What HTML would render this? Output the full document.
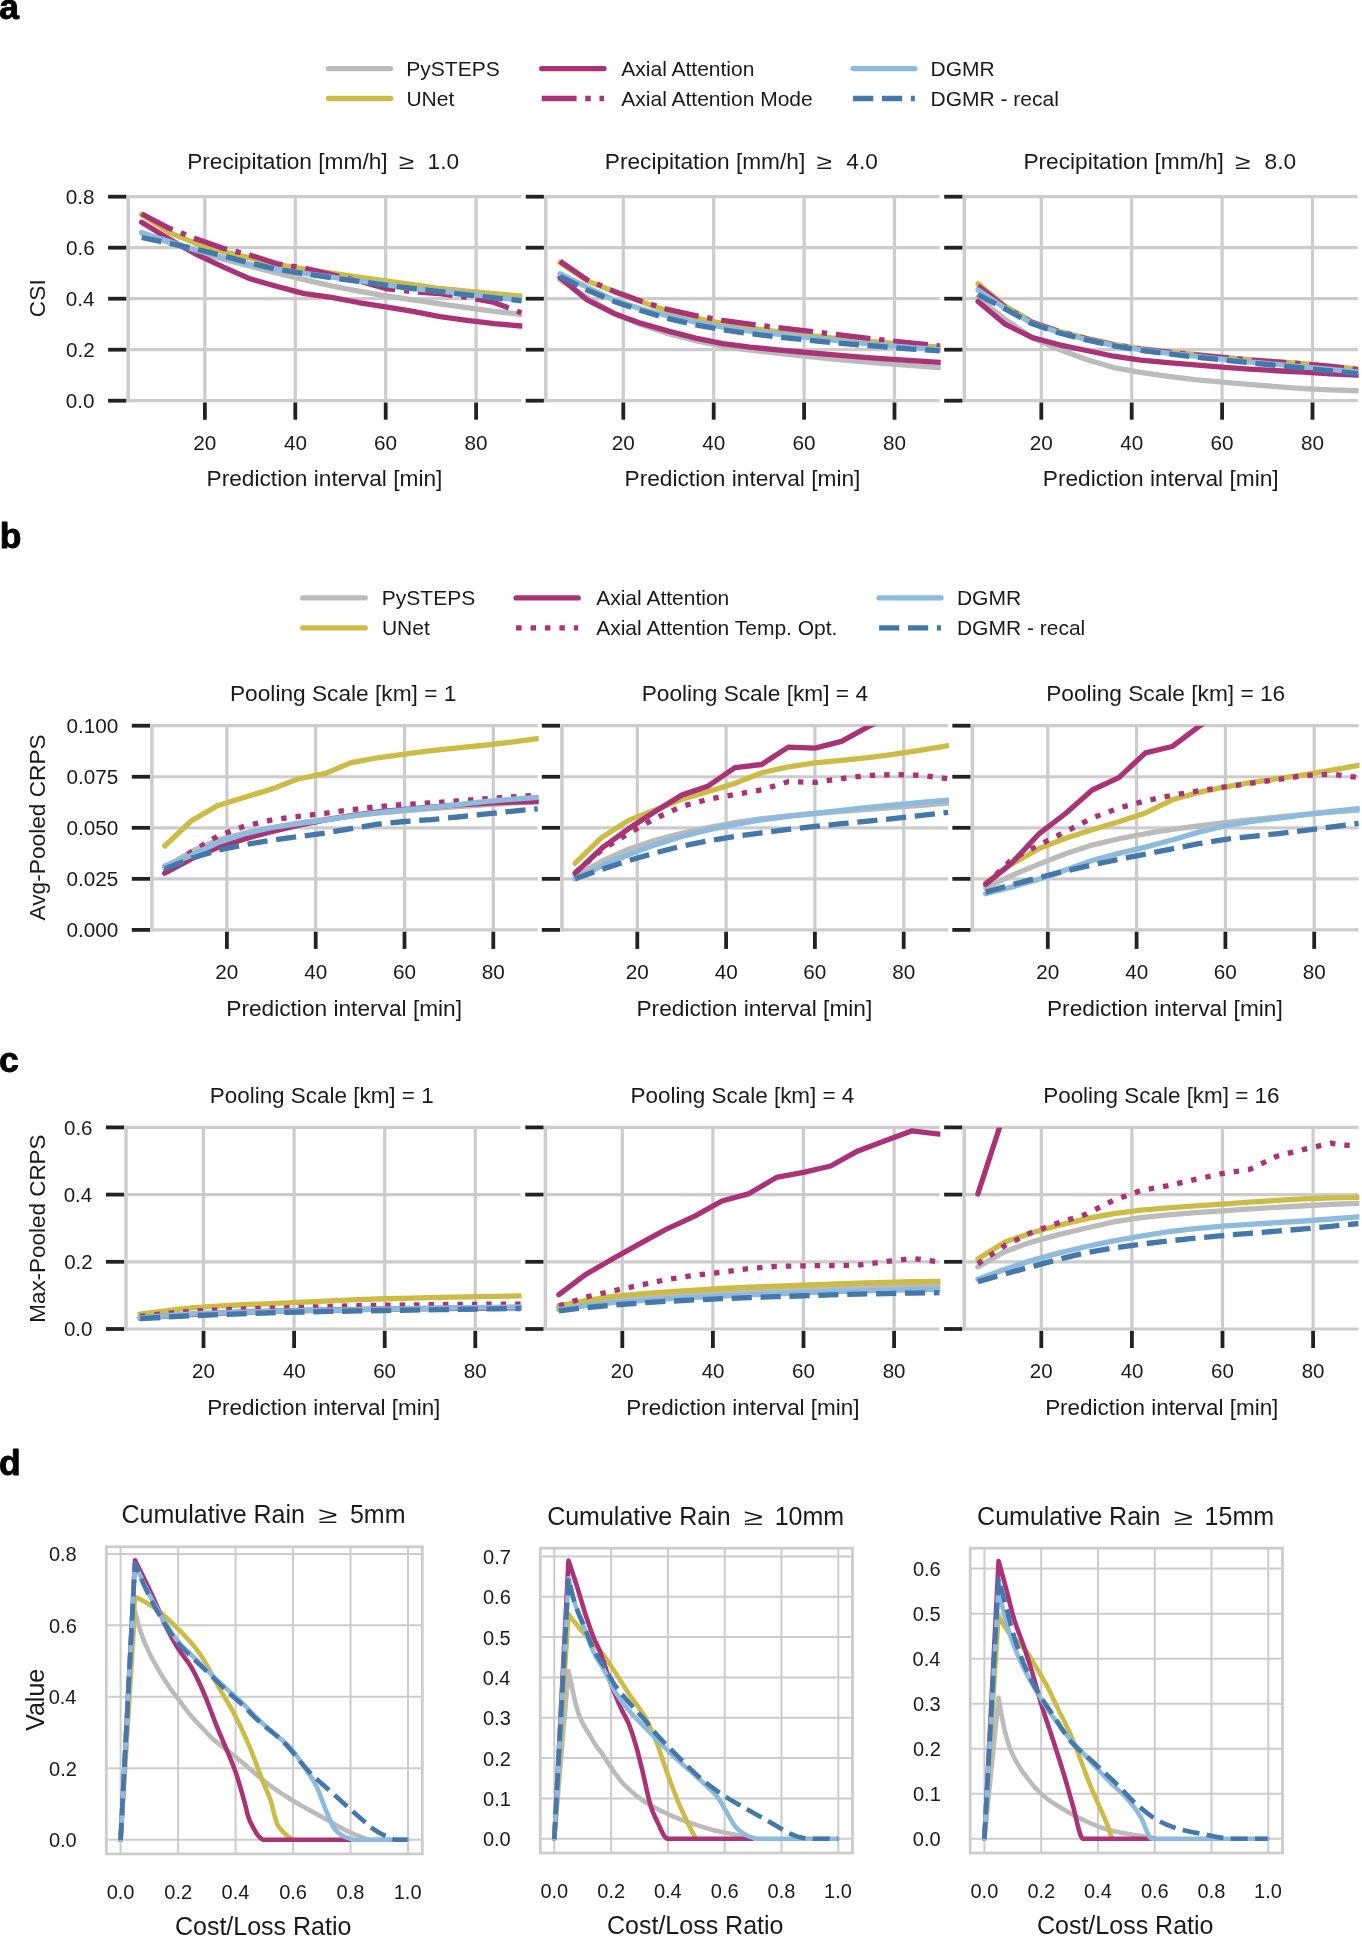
<!DOCTYPE html>
<html><head><meta charset="utf-8"><title>Figure</title>
<style>html,body{margin:0;padding:0;background:#fff;overflow:hidden;}svg{display:block;will-change:transform;}text{font-family:"Liberation Sans", sans-serif;}</style>
</head><body>
<svg width="1362" height="1936" viewBox="0 0 1362 1936" font-family='"Liberation Sans", sans-serif'><defs><clipPath id="c1"><rect x="128.20" y="196.70" width="394.10" height="204.00"/></clipPath><clipPath id="c2"><rect x="545.80" y="196.70" width="394.90" height="204.00"/></clipPath><clipPath id="c3"><rect x="964.30" y="196.70" width="394.40" height="204.00"/></clipPath><clipPath id="c4"><rect x="151.90" y="725.70" width="386.80" height="204.20"/></clipPath><clipPath id="c5"><rect x="561.90" y="725.70" width="387.20" height="204.20"/></clipPath><clipPath id="c6"><rect x="972.40" y="725.70" width="387.20" height="204.20"/></clipPath><clipPath id="c7"><rect x="126.00" y="1127.40" width="395.60" height="201.60"/></clipPath><clipPath id="c8"><rect x="545.40" y="1127.40" width="395.00" height="201.60"/></clipPath><clipPath id="c9"><rect x="964.20" y="1127.40" width="395.20" height="201.60"/></clipPath></defs><rect width="1362" height="1936" fill="#fff"/>
<line x1="128.20" y1="400.70" x2="521.30" y2="400.70" stroke="#CCCCCC" stroke-width="3.2" stroke-linecap="butt"/>
<line x1="128.20" y1="349.70" x2="521.30" y2="349.70" stroke="#CCCCCC" stroke-width="3.2" stroke-linecap="butt"/>
<line x1="128.20" y1="298.70" x2="521.30" y2="298.70" stroke="#CCCCCC" stroke-width="3.2" stroke-linecap="butt"/>
<line x1="128.20" y1="247.70" x2="521.30" y2="247.70" stroke="#CCCCCC" stroke-width="3.2" stroke-linecap="butt"/>
<line x1="128.20" y1="196.70" x2="521.30" y2="196.70" stroke="#CCCCCC" stroke-width="3.2" stroke-linecap="butt"/>
<line x1="204.90" y1="196.70" x2="204.90" y2="400.70" stroke="#CCCCCC" stroke-width="3.2" stroke-linecap="butt"/>
<line x1="295.30" y1="196.70" x2="295.30" y2="400.70" stroke="#CCCCCC" stroke-width="3.2" stroke-linecap="butt"/>
<line x1="385.70" y1="196.70" x2="385.70" y2="400.70" stroke="#CCCCCC" stroke-width="3.2" stroke-linecap="butt"/>
<line x1="476.10" y1="196.70" x2="476.10" y2="400.70" stroke="#CCCCCC" stroke-width="3.2" stroke-linecap="butt"/>
<line x1="128.20" y1="195.10" x2="128.20" y2="402.30" stroke="#CCCCCC" stroke-width="3.5" stroke-linecap="butt"/>
<path d="M141.62,232.40 L168.74,242.60 L195.86,251.53 L222.98,259.17 L250.10,266.31 L277.22,273.20 L304.34,279.57 L331.46,285.95 L358.58,291.05 L385.70,295.89 L412.82,299.97 L439.94,303.80 L467.06,307.62 L494.18,311.45 L521.30,314.25" fill="none" stroke="#BBBBBB" stroke-width="5.3" stroke-linecap="round" stroke-linejoin="round" clip-path="url(#c1)"/>
<path d="M141.62,214.55 L168.74,232.40 L195.86,243.36 L222.98,251.53 L250.10,257.90 L277.22,264.27 L304.34,269.12 L331.46,273.20 L358.58,277.02 L385.70,280.85 L412.82,284.67 L439.94,288.50 L467.06,291.05 L494.18,293.60 L521.30,296.15" fill="none" stroke="#CCBB44" stroke-width="5.3" stroke-linecap="round" stroke-linejoin="round" clip-path="url(#c1)"/>
<path d="M141.62,222.20 L168.74,238.77 L195.86,254.07 L222.98,266.82 L250.10,278.81 L277.22,286.46 L304.34,293.60 L331.46,297.42 L358.58,302.52 L385.70,306.86 L412.82,311.45 L439.94,316.55 L467.06,320.38 L494.18,323.69 L521.30,325.99" fill="none" stroke="#AA3377" stroke-width="5.3" stroke-linecap="round" stroke-linejoin="round" clip-path="url(#c1)"/>
<path d="M141.62,213.78 L168.74,228.06 L195.86,238.77 L222.98,248.21 L250.10,255.09 L277.22,263.76 L304.34,268.10 L331.46,274.48 L358.58,280.85 L385.70,288.50 L412.82,291.81 L439.94,293.60 L467.06,297.42 L494.18,302.52 L521.30,312.72" fill="none" stroke="#AA3377" stroke-width="5.3" stroke-linecap="butt" stroke-linejoin="round" stroke-dasharray="34.88 8.72 5.45 8.72" clip-path="url(#c1)"/>
<path d="M141.62,232.91 L168.74,241.32 L195.86,250.25 L222.98,257.39 L250.10,264.27 L277.22,269.38 L304.34,273.45 L331.46,277.02 L358.58,280.85 L385.70,284.67 L412.82,288.50 L439.94,291.05 L467.06,293.60 L494.18,297.42 L521.30,299.97" fill="none" stroke="#8DBADD" stroke-width="5.3" stroke-linecap="round" stroke-linejoin="round" clip-path="url(#c1)"/>
<path d="M141.62,237.50 L168.74,243.11 L195.86,248.97 L222.98,255.86 L250.10,263.00 L277.22,269.38 L304.34,273.71 L331.46,277.79 L358.58,281.36 L385.70,285.19 L412.82,288.50 L439.94,291.56 L467.06,294.88 L494.18,297.94 L521.30,300.74" fill="none" stroke="#4477AA" stroke-width="5.3" stroke-linecap="butt" stroke-linejoin="round" stroke-dasharray="20.17 8.72" clip-path="url(#c1)"/>
<line x1="108.10" y1="400.70" x2="126.30" y2="400.70" stroke="#222222" stroke-width="3.8" stroke-linecap="butt"/>
<line x1="108.10" y1="349.70" x2="126.30" y2="349.70" stroke="#222222" stroke-width="3.8" stroke-linecap="butt"/>
<line x1="108.10" y1="298.70" x2="126.30" y2="298.70" stroke="#222222" stroke-width="3.8" stroke-linecap="butt"/>
<line x1="108.10" y1="247.70" x2="126.30" y2="247.70" stroke="#222222" stroke-width="3.8" stroke-linecap="butt"/>
<line x1="108.10" y1="196.70" x2="126.30" y2="196.70" stroke="#222222" stroke-width="3.8" stroke-linecap="butt"/>
<line x1="204.90" y1="402.50" x2="204.90" y2="419.70" stroke="#222222" stroke-width="3.8" stroke-linecap="butt"/>
<line x1="295.30" y1="402.50" x2="295.30" y2="419.70" stroke="#222222" stroke-width="3.8" stroke-linecap="butt"/>
<line x1="385.70" y1="402.50" x2="385.70" y2="419.70" stroke="#222222" stroke-width="3.8" stroke-linecap="butt"/>
<line x1="476.10" y1="402.50" x2="476.10" y2="419.70" stroke="#222222" stroke-width="3.8" stroke-linecap="butt"/>
<text x="65.85" y="408.24" font-size="20.7" fill="#1a1a1a">0.0</text>
<text x="66.06" y="357.24" font-size="20.7" fill="#1a1a1a">0.2</text>
<text x="65.65" y="306.24" font-size="20.7" fill="#1a1a1a">0.4</text>
<text x="65.96" y="255.24" font-size="20.7" fill="#1a1a1a">0.6</text>
<text x="65.85" y="204.24" font-size="20.7" fill="#1a1a1a">0.8</text>
<text x="0" y="0" font-size="22.7" fill="#1a1a1a" transform="translate(44.70,317.14) rotate(-90)">CSI</text>
<text x="193.31" y="449.50" font-size="20.7" fill="#1a1a1a">20</text>
<text x="283.97" y="449.50" font-size="20.7" fill="#1a1a1a">40</text>
<text x="374.11" y="449.50" font-size="20.7" fill="#1a1a1a">60</text>
<text x="464.56" y="449.50" font-size="20.7" fill="#1a1a1a">80</text>
<text x="206.56" y="486.30" font-size="22.7" fill="#1a1a1a">Prediction interval [min]</text>
<text x="187.14" y="168.50" font-size="22.7" fill="#1a1a1a">Precipitation [mm/h]</text>
<text x="0" y="0" font-size="22.7" fill="#1a1a1a" transform="translate(398.86,168.50) scale(1.24,0.93)">≥</text>
<text x="427.60" y="168.50" font-size="22.7" fill="#1a1a1a">1.0</text>
<line x1="545.80" y1="400.70" x2="939.70" y2="400.70" stroke="#CCCCCC" stroke-width="3.2" stroke-linecap="butt"/>
<line x1="545.80" y1="349.70" x2="939.70" y2="349.70" stroke="#CCCCCC" stroke-width="3.2" stroke-linecap="butt"/>
<line x1="545.80" y1="298.70" x2="939.70" y2="298.70" stroke="#CCCCCC" stroke-width="3.2" stroke-linecap="butt"/>
<line x1="545.80" y1="247.70" x2="939.70" y2="247.70" stroke="#CCCCCC" stroke-width="3.2" stroke-linecap="butt"/>
<line x1="545.80" y1="196.70" x2="939.70" y2="196.70" stroke="#CCCCCC" stroke-width="3.2" stroke-linecap="butt"/>
<line x1="623.30" y1="196.70" x2="623.30" y2="400.70" stroke="#CCCCCC" stroke-width="3.2" stroke-linecap="butt"/>
<line x1="713.70" y1="196.70" x2="713.70" y2="400.70" stroke="#CCCCCC" stroke-width="3.2" stroke-linecap="butt"/>
<line x1="804.10" y1="196.70" x2="804.10" y2="400.70" stroke="#CCCCCC" stroke-width="3.2" stroke-linecap="butt"/>
<line x1="894.50" y1="196.70" x2="894.50" y2="400.70" stroke="#CCCCCC" stroke-width="3.2" stroke-linecap="butt"/>
<line x1="545.80" y1="195.10" x2="545.80" y2="402.30" stroke="#CCCCCC" stroke-width="3.5" stroke-linecap="butt"/>
<path d="M560.02,279.83 L587.14,297.42 L614.26,313.22 L641.38,324.76 L668.50,333.63 L695.62,340.70 L722.74,346.13 L749.86,350.04 L776.98,353.20 L804.10,356.07 L831.22,358.81 L858.34,361.29 L885.46,363.56 L912.58,365.66 L939.70,367.55" fill="none" stroke="#BBBBBB" stroke-width="5.3" stroke-linecap="round" stroke-linejoin="round" clip-path="url(#c2)"/>
<path d="M560.02,262.49 L587.14,280.85 L614.26,291.47 L641.38,301.83 L668.50,311.19 L695.62,318.17 L722.74,323.69 L749.86,328.03 L776.98,331.69 L804.10,334.91 L831.22,337.77 L858.34,340.32 L885.46,342.74 L912.58,345.02 L939.70,347.15" fill="none" stroke="#CCBB44" stroke-width="5.3" stroke-linecap="round" stroke-linejoin="round" clip-path="url(#c2)"/>
<path d="M560.02,277.53 L587.14,299.97 L614.26,313.70 L641.38,323.38 L668.50,331.08 L695.62,338.12 L722.74,343.58 L749.86,347.07 L776.98,349.78 L804.10,352.25 L831.22,354.65 L858.34,356.83 L885.46,358.85 L912.58,360.73 L939.70,362.45" fill="none" stroke="#AA3377" stroke-width="5.3" stroke-linecap="round" stroke-linejoin="round" clip-path="url(#c2)"/>
<path d="M560.02,261.21 L587.14,279.83 L614.26,291.42 L641.38,301.36 L668.50,309.66 L695.62,315.65 L722.74,320.38 L749.86,324.16 L776.98,327.39 L804.10,330.57 L831.22,333.91 L858.34,337.18 L885.46,340.24 L912.58,343.14 L939.70,345.88" fill="none" stroke="#AA3377" stroke-width="5.3" stroke-linecap="butt" stroke-linejoin="round" stroke-dasharray="34.88 8.72 5.45 8.72" clip-path="url(#c2)"/>
<path d="M560.02,273.71 L587.14,287.48 L614.26,300.04 L641.38,309.01 L668.50,316.04 L695.62,322.22 L722.74,327.26 L749.86,331.06 L776.98,334.24 L804.10,337.20 L831.22,340.12 L858.34,342.82 L885.46,345.31 L912.58,347.60 L939.70,349.70" fill="none" stroke="#8DBADD" stroke-width="5.3" stroke-linecap="round" stroke-linejoin="round" clip-path="url(#c2)"/>
<path d="M560.02,276.26 L587.14,290.03 L614.26,301.39 L641.38,310.78 L668.50,318.59 L695.62,324.83 L722.74,329.81 L749.86,333.65 L776.98,336.87 L804.10,339.75 L831.22,342.38 L858.34,344.75 L885.46,346.97 L912.58,349.05 L939.70,350.98" fill="none" stroke="#4477AA" stroke-width="5.3" stroke-linecap="butt" stroke-linejoin="round" stroke-dasharray="20.17 8.72" clip-path="url(#c2)"/>
<line x1="525.70" y1="400.70" x2="543.90" y2="400.70" stroke="#222222" stroke-width="3.8" stroke-linecap="butt"/>
<line x1="525.70" y1="349.70" x2="543.90" y2="349.70" stroke="#222222" stroke-width="3.8" stroke-linecap="butt"/>
<line x1="525.70" y1="298.70" x2="543.90" y2="298.70" stroke="#222222" stroke-width="3.8" stroke-linecap="butt"/>
<line x1="525.70" y1="247.70" x2="543.90" y2="247.70" stroke="#222222" stroke-width="3.8" stroke-linecap="butt"/>
<line x1="525.70" y1="196.70" x2="543.90" y2="196.70" stroke="#222222" stroke-width="3.8" stroke-linecap="butt"/>
<line x1="623.30" y1="402.50" x2="623.30" y2="419.70" stroke="#222222" stroke-width="3.8" stroke-linecap="butt"/>
<line x1="713.70" y1="402.50" x2="713.70" y2="419.70" stroke="#222222" stroke-width="3.8" stroke-linecap="butt"/>
<line x1="804.10" y1="402.50" x2="804.10" y2="419.70" stroke="#222222" stroke-width="3.8" stroke-linecap="butt"/>
<line x1="894.50" y1="402.50" x2="894.50" y2="419.70" stroke="#222222" stroke-width="3.8" stroke-linecap="butt"/>
<text x="611.71" y="449.50" font-size="20.7" fill="#1a1a1a">20</text>
<text x="702.37" y="449.50" font-size="20.7" fill="#1a1a1a">40</text>
<text x="792.51" y="449.50" font-size="20.7" fill="#1a1a1a">60</text>
<text x="882.96" y="449.50" font-size="20.7" fill="#1a1a1a">80</text>
<text x="624.56" y="486.30" font-size="22.7" fill="#1a1a1a">Prediction interval [min]</text>
<text x="604.77" y="168.50" font-size="22.7" fill="#1a1a1a">Precipitation [mm/h]</text>
<text x="0" y="0" font-size="22.7" fill="#1a1a1a" transform="translate(816.49,168.50) scale(1.24,0.93)">≥</text>
<text x="846.37" y="168.50" font-size="22.7" fill="#1a1a1a">4.0</text>
<line x1="964.30" y1="400.70" x2="1357.70" y2="400.70" stroke="#CCCCCC" stroke-width="3.2" stroke-linecap="butt"/>
<line x1="964.30" y1="349.70" x2="1357.70" y2="349.70" stroke="#CCCCCC" stroke-width="3.2" stroke-linecap="butt"/>
<line x1="964.30" y1="298.70" x2="1357.70" y2="298.70" stroke="#CCCCCC" stroke-width="3.2" stroke-linecap="butt"/>
<line x1="964.30" y1="247.70" x2="1357.70" y2="247.70" stroke="#CCCCCC" stroke-width="3.2" stroke-linecap="butt"/>
<line x1="964.30" y1="196.70" x2="1357.70" y2="196.70" stroke="#CCCCCC" stroke-width="3.2" stroke-linecap="butt"/>
<line x1="1041.30" y1="196.70" x2="1041.30" y2="400.70" stroke="#CCCCCC" stroke-width="3.2" stroke-linecap="butt"/>
<line x1="1131.70" y1="196.70" x2="1131.70" y2="400.70" stroke="#CCCCCC" stroke-width="3.2" stroke-linecap="butt"/>
<line x1="1222.10" y1="196.70" x2="1222.10" y2="400.70" stroke="#CCCCCC" stroke-width="3.2" stroke-linecap="butt"/>
<line x1="1312.50" y1="196.70" x2="1312.50" y2="400.70" stroke="#CCCCCC" stroke-width="3.2" stroke-linecap="butt"/>
<line x1="964.30" y1="195.10" x2="964.30" y2="402.30" stroke="#CCCCCC" stroke-width="3.5" stroke-linecap="butt"/>
<path d="M978.02,297.68 L1005.14,319.36 L1032.26,337.50 L1059.38,349.48 L1086.50,359.55 L1113.62,367.57 L1140.74,372.36 L1167.86,376.38 L1194.98,379.59 L1222.10,382.14 L1249.22,384.38 L1276.34,386.62 L1303.46,388.55 L1330.58,389.86 L1357.70,390.75" fill="none" stroke="#BBBBBB" stroke-width="5.3" stroke-linecap="round" stroke-linejoin="round" clip-path="url(#c3)"/>
<path d="M978.02,283.91 L1005.14,306.00 L1032.26,322.04 L1059.38,331.27 L1086.50,338.22 L1113.62,344.29 L1140.74,348.63 L1167.86,351.59 L1194.98,354.33 L1222.10,357.12 L1249.22,359.64 L1276.34,361.66 L1303.46,363.60 L1330.58,366.09 L1357.70,369.08" fill="none" stroke="#CCBB44" stroke-width="5.3" stroke-linecap="round" stroke-linejoin="round" clip-path="url(#c3)"/>
<path d="M978.02,301.50 L1005.14,324.20 L1032.26,337.67 L1059.38,344.80 L1086.50,350.51 L1113.62,356.24 L1140.74,360.18 L1167.86,362.66 L1194.98,364.88 L1222.10,367.10 L1249.22,369.08 L1276.34,370.73 L1303.46,372.22 L1330.58,373.73 L1357.70,375.20" fill="none" stroke="#AA3377" stroke-width="5.3" stroke-linecap="round" stroke-linejoin="round" clip-path="url(#c3)"/>
<path d="M978.02,285.95 L1005.14,307.19 L1032.26,322.55 L1059.38,331.75 L1086.50,338.73 L1113.62,344.80 L1140.74,349.14 L1167.86,352.12 L1194.98,354.82 L1222.10,357.48 L1249.22,359.90 L1276.34,361.89 L1303.46,363.84 L1330.58,366.41 L1357.70,369.59" fill="none" stroke="#AA3377" stroke-width="5.3" stroke-linecap="butt" stroke-linejoin="round" stroke-dasharray="34.88 8.72 5.45 8.72" clip-path="url(#c3)"/>
<path d="M978.02,290.03 L1005.14,308.30 L1032.26,323.32 L1059.38,332.51 L1086.50,339.46 L1113.62,345.29 L1140.74,349.75 L1167.86,353.11 L1194.98,356.19 L1222.10,359.17 L1249.22,361.94 L1276.34,364.43 L1303.46,366.84 L1330.58,369.42 L1357.70,372.14" fill="none" stroke="#8DBADD" stroke-width="5.3" stroke-linecap="round" stroke-linejoin="round" clip-path="url(#c3)"/>
<path d="M978.02,294.62 L1005.14,308.86 L1032.26,323.83 L1059.38,333.01 L1086.50,339.96 L1113.62,345.77 L1140.74,350.30 L1167.86,353.80 L1194.98,356.96 L1222.10,359.90 L1249.22,362.70 L1276.34,365.40 L1303.46,368.05 L1330.58,370.82 L1357.70,373.67" fill="none" stroke="#4477AA" stroke-width="5.3" stroke-linecap="butt" stroke-linejoin="round" stroke-dasharray="20.17 8.72" clip-path="url(#c3)"/>
<line x1="944.20" y1="400.70" x2="962.40" y2="400.70" stroke="#222222" stroke-width="3.8" stroke-linecap="butt"/>
<line x1="944.20" y1="349.70" x2="962.40" y2="349.70" stroke="#222222" stroke-width="3.8" stroke-linecap="butt"/>
<line x1="944.20" y1="298.70" x2="962.40" y2="298.70" stroke="#222222" stroke-width="3.8" stroke-linecap="butt"/>
<line x1="944.20" y1="247.70" x2="962.40" y2="247.70" stroke="#222222" stroke-width="3.8" stroke-linecap="butt"/>
<line x1="944.20" y1="196.70" x2="962.40" y2="196.70" stroke="#222222" stroke-width="3.8" stroke-linecap="butt"/>
<line x1="1041.30" y1="402.50" x2="1041.30" y2="419.70" stroke="#222222" stroke-width="3.8" stroke-linecap="butt"/>
<line x1="1131.70" y1="402.50" x2="1131.70" y2="419.70" stroke="#222222" stroke-width="3.8" stroke-linecap="butt"/>
<line x1="1222.10" y1="402.50" x2="1222.10" y2="419.70" stroke="#222222" stroke-width="3.8" stroke-linecap="butt"/>
<line x1="1312.50" y1="402.50" x2="1312.50" y2="419.70" stroke="#222222" stroke-width="3.8" stroke-linecap="butt"/>
<text x="1029.71" y="449.50" font-size="20.7" fill="#1a1a1a">20</text>
<text x="1120.37" y="449.50" font-size="20.7" fill="#1a1a1a">40</text>
<text x="1210.51" y="449.50" font-size="20.7" fill="#1a1a1a">60</text>
<text x="1300.96" y="449.50" font-size="20.7" fill="#1a1a1a">80</text>
<text x="1042.81" y="486.30" font-size="22.7" fill="#1a1a1a">Prediction interval [min]</text>
<text x="1023.40" y="168.50" font-size="22.7" fill="#1a1a1a">Precipitation [mm/h]</text>
<text x="0" y="0" font-size="22.7" fill="#1a1a1a" transform="translate(1235.12,168.50) scale(1.24,0.93)">≥</text>
<text x="1264.54" y="168.50" font-size="22.7" fill="#1a1a1a">8.0</text>
<line x1="151.90" y1="929.90" x2="537.70" y2="929.90" stroke="#CCCCCC" stroke-width="3.2" stroke-linecap="butt"/>
<line x1="151.90" y1="878.85" x2="537.70" y2="878.85" stroke="#CCCCCC" stroke-width="3.2" stroke-linecap="butt"/>
<line x1="151.90" y1="827.80" x2="537.70" y2="827.80" stroke="#CCCCCC" stroke-width="3.2" stroke-linecap="butt"/>
<line x1="151.90" y1="776.75" x2="537.70" y2="776.75" stroke="#CCCCCC" stroke-width="3.2" stroke-linecap="butt"/>
<line x1="151.90" y1="725.70" x2="537.70" y2="725.70" stroke="#CCCCCC" stroke-width="3.2" stroke-linecap="butt"/>
<line x1="226.90" y1="725.70" x2="226.90" y2="929.90" stroke="#CCCCCC" stroke-width="3.2" stroke-linecap="butt"/>
<line x1="315.70" y1="725.70" x2="315.70" y2="929.90" stroke="#CCCCCC" stroke-width="3.2" stroke-linecap="butt"/>
<line x1="404.50" y1="725.70" x2="404.50" y2="929.90" stroke="#CCCCCC" stroke-width="3.2" stroke-linecap="butt"/>
<line x1="493.30" y1="725.70" x2="493.30" y2="929.90" stroke="#CCCCCC" stroke-width="3.2" stroke-linecap="butt"/>
<line x1="151.90" y1="724.10" x2="151.90" y2="931.50" stroke="#CCCCCC" stroke-width="3.5" stroke-linecap="butt"/>
<path d="M164.74,867.41 L191.38,851.48 L218.02,840.05 L244.66,833.03 L271.30,827.80 L297.94,823.22 L324.58,819.26 L351.22,815.96 L377.86,813.22 L404.50,810.84 L431.14,808.71 L457.78,806.73 L484.42,804.87 L511.06,803.18 L537.70,801.66" fill="none" stroke="#BBBBBB" stroke-width="5.3" stroke-linecap="round" stroke-linejoin="round" clip-path="url(#c4)"/>
<path d="M164.74,845.97 L191.38,820.72 L218.02,805.42 L244.66,797.18 L271.30,789.21 L297.94,779.02 L324.58,773.72 L351.22,762.65 L377.86,757.76 L404.50,754.10 L431.14,750.57 L457.78,747.77 L484.42,745.24 L511.06,742.15 L537.70,738.56" fill="none" stroke="#CCBB44" stroke-width="5.3" stroke-linecap="round" stroke-linejoin="round" clip-path="url(#c4)"/>
<path d="M164.74,873.13 L191.38,858.85 L218.02,847.40 L244.66,838.90 L271.30,831.66 L297.94,825.50 L324.58,820.24 L351.22,815.64 L377.86,811.97 L404.50,809.42 L431.14,807.06 L457.78,804.95 L484.42,803.25 L511.06,802.11 L537.70,801.66" fill="none" stroke="#AA3377" stroke-width="5.3" stroke-linecap="round" stroke-linejoin="round" clip-path="url(#c4)"/>
<path d="M164.74,871.70 L191.38,851.82 L218.02,835.97 L244.66,826.12 L271.30,820.08 L297.94,816.44 L324.58,813.30 L351.22,809.77 L377.86,806.58 L404.50,804.46 L431.14,802.86 L457.78,800.95 L484.42,798.85 L511.06,796.93 L537.70,795.13" fill="none" stroke="#AA3377" stroke-width="5.3" stroke-linecap="butt" stroke-linejoin="round" stroke-dasharray="5.45 8.99" clip-path="url(#c4)"/>
<path d="M164.74,865.99 L191.38,855.37 L218.02,842.50 L244.66,833.74 L271.30,827.75 L297.94,823.68 L324.58,820.04 L351.22,816.07 L377.86,812.59 L404.50,809.91 L431.14,807.45 L457.78,804.63 L484.42,801.70 L511.06,799.32 L537.70,797.37" fill="none" stroke="#8DBADD" stroke-width="5.3" stroke-linecap="round" stroke-linejoin="round" clip-path="url(#c4)"/>
<path d="M164.74,868.84 L191.38,858.31 L218.02,850.26 L244.66,844.69 L271.30,840.31 L297.94,836.72 L324.58,833.11 L351.22,828.57 L377.86,824.19 L404.50,821.51 L431.14,819.57 L457.78,817.01 L484.42,814.03 L511.06,811.33 L537.70,808.81" fill="none" stroke="#4477AA" stroke-width="5.3" stroke-linecap="butt" stroke-linejoin="round" stroke-dasharray="20.17 8.72" clip-path="url(#c4)"/>
<line x1="131.80" y1="929.90" x2="150.00" y2="929.90" stroke="#222222" stroke-width="3.8" stroke-linecap="butt"/>
<line x1="131.80" y1="878.85" x2="150.00" y2="878.85" stroke="#222222" stroke-width="3.8" stroke-linecap="butt"/>
<line x1="131.80" y1="827.80" x2="150.00" y2="827.80" stroke="#222222" stroke-width="3.8" stroke-linecap="butt"/>
<line x1="131.80" y1="776.75" x2="150.00" y2="776.75" stroke="#222222" stroke-width="3.8" stroke-linecap="butt"/>
<line x1="131.80" y1="725.70" x2="150.00" y2="725.70" stroke="#222222" stroke-width="3.8" stroke-linecap="butt"/>
<line x1="226.90" y1="931.70" x2="226.90" y2="948.90" stroke="#222222" stroke-width="3.8" stroke-linecap="butt"/>
<line x1="315.70" y1="931.70" x2="315.70" y2="948.90" stroke="#222222" stroke-width="3.8" stroke-linecap="butt"/>
<line x1="404.50" y1="931.70" x2="404.50" y2="948.90" stroke="#222222" stroke-width="3.8" stroke-linecap="butt"/>
<line x1="493.30" y1="931.70" x2="493.30" y2="948.90" stroke="#222222" stroke-width="3.8" stroke-linecap="butt"/>
<text x="66.58" y="937.44" font-size="20.7" fill="#1a1a1a">0.000</text>
<text x="66.58" y="886.39" font-size="20.7" fill="#1a1a1a">0.025</text>
<text x="66.58" y="835.34" font-size="20.7" fill="#1a1a1a">0.050</text>
<text x="66.58" y="784.29" font-size="20.7" fill="#1a1a1a">0.075</text>
<text x="66.58" y="733.24" font-size="20.7" fill="#1a1a1a">0.100</text>
<text x="0" y="0" font-size="22.7" fill="#1a1a1a" transform="translate(44.70,920.47) rotate(-90)">Avg-Pooled CRPS</text>
<text x="215.31" y="978.70" font-size="20.7" fill="#1a1a1a">20</text>
<text x="304.37" y="978.70" font-size="20.7" fill="#1a1a1a">40</text>
<text x="392.91" y="978.70" font-size="20.7" fill="#1a1a1a">60</text>
<text x="481.76" y="978.70" font-size="20.7" fill="#1a1a1a">80</text>
<text x="226.26" y="1015.50" font-size="22.7" fill="#1a1a1a">Prediction interval [min]</text>
<text x="229.99" y="701.20" font-size="22.7" fill="#1a1a1a">Pooling Scale [km] = 1</text>
<line x1="561.90" y1="929.90" x2="948.10" y2="929.90" stroke="#CCCCCC" stroke-width="3.2" stroke-linecap="butt"/>
<line x1="561.90" y1="878.85" x2="948.10" y2="878.85" stroke="#CCCCCC" stroke-width="3.2" stroke-linecap="butt"/>
<line x1="561.90" y1="827.80" x2="948.10" y2="827.80" stroke="#CCCCCC" stroke-width="3.2" stroke-linecap="butt"/>
<line x1="561.90" y1="776.75" x2="948.10" y2="776.75" stroke="#CCCCCC" stroke-width="3.2" stroke-linecap="butt"/>
<line x1="561.90" y1="725.70" x2="948.10" y2="725.70" stroke="#CCCCCC" stroke-width="3.2" stroke-linecap="butt"/>
<line x1="637.30" y1="725.70" x2="637.30" y2="929.90" stroke="#CCCCCC" stroke-width="3.2" stroke-linecap="butt"/>
<line x1="726.10" y1="725.70" x2="726.10" y2="929.90" stroke="#CCCCCC" stroke-width="3.2" stroke-linecap="butt"/>
<line x1="814.90" y1="725.70" x2="814.90" y2="929.90" stroke="#CCCCCC" stroke-width="3.2" stroke-linecap="butt"/>
<line x1="903.70" y1="725.70" x2="903.70" y2="929.90" stroke="#CCCCCC" stroke-width="3.2" stroke-linecap="butt"/>
<line x1="561.90" y1="724.10" x2="561.90" y2="931.50" stroke="#CCCCCC" stroke-width="3.5" stroke-linecap="butt"/>
<path d="M575.14,875.99 L601.78,861.28 L628.42,849.27 L655.06,840.27 L681.70,833.29 L708.34,827.53 L734.98,822.55 L761.62,818.65 L788.26,815.84 L814.90,813.51 L841.54,811.38 L868.18,809.41 L894.82,807.36 L921.46,805.24 L948.10,803.09" fill="none" stroke="#BBBBBB" stroke-width="5.3" stroke-linecap="round" stroke-linejoin="round" clip-path="url(#c5)"/>
<path d="M575.14,863.13 L601.78,837.43 L628.42,820.39 L655.06,810.06 L681.70,799.27 L708.34,791.42 L734.98,783.36 L761.62,772.72 L788.26,766.84 L814.90,762.85 L841.54,760.44 L868.18,757.51 L894.82,754.09 L921.46,750.20 L948.10,745.71" fill="none" stroke="#CCBB44" stroke-width="5.3" stroke-linecap="round" stroke-linejoin="round" clip-path="url(#c5)"/>
<path d="M575.14,873.13 L601.78,848.22 L628.42,828.82 L655.06,811.46 L681.70,795.13 L708.34,785.94 L734.98,767.56 L761.62,764.50 L788.26,747.14 L814.90,748.16 L841.54,741.42 L868.18,726.72 L894.82,713.45 L921.46,701.20 L948.10,688.94" fill="none" stroke="#AA3377" stroke-width="5.3" stroke-linecap="round" stroke-linejoin="round" clip-path="url(#c5)"/>
<path d="M575.14,872.72 L601.78,849.93 L628.42,833.52 L655.06,818.46 L681.70,806.39 L708.34,799.27 L734.98,794.41 L761.62,789.91 L788.26,781.67 L814.90,782.47 L841.54,778.57 L868.18,775.48 L894.82,774.58 L921.46,775.33 L948.10,778.79" fill="none" stroke="#AA3377" stroke-width="5.3" stroke-linecap="butt" stroke-linejoin="round" stroke-dasharray="5.45 8.99" clip-path="url(#c5)"/>
<path d="M575.14,878.85 L601.78,866.02 L628.42,854.69 L655.06,844.85 L681.70,836.43 L708.34,829.86 L734.98,824.34 L761.62,819.84 L788.26,816.35 L814.90,813.30 L841.54,810.27 L868.18,807.43 L894.82,804.84 L921.46,802.43 L948.10,800.23" fill="none" stroke="#8DBADD" stroke-width="5.3" stroke-linecap="round" stroke-linejoin="round" clip-path="url(#c5)"/>
<path d="M575.14,878.85 L601.78,869.30 L628.42,860.68 L655.06,852.93 L681.70,846.10 L708.34,840.76 L734.98,836.46 L761.62,832.78 L788.26,829.48 L814.90,826.45 L841.54,823.70 L868.18,821.15 L894.82,818.35 L921.46,815.39 L948.10,812.28" fill="none" stroke="#4477AA" stroke-width="5.3" stroke-linecap="butt" stroke-linejoin="round" stroke-dasharray="20.17 8.72" clip-path="url(#c5)"/>
<line x1="541.80" y1="929.90" x2="560.00" y2="929.90" stroke="#222222" stroke-width="3.8" stroke-linecap="butt"/>
<line x1="541.80" y1="878.85" x2="560.00" y2="878.85" stroke="#222222" stroke-width="3.8" stroke-linecap="butt"/>
<line x1="541.80" y1="827.80" x2="560.00" y2="827.80" stroke="#222222" stroke-width="3.8" stroke-linecap="butt"/>
<line x1="541.80" y1="776.75" x2="560.00" y2="776.75" stroke="#222222" stroke-width="3.8" stroke-linecap="butt"/>
<line x1="541.80" y1="725.70" x2="560.00" y2="725.70" stroke="#222222" stroke-width="3.8" stroke-linecap="butt"/>
<line x1="637.30" y1="931.70" x2="637.30" y2="948.90" stroke="#222222" stroke-width="3.8" stroke-linecap="butt"/>
<line x1="726.10" y1="931.70" x2="726.10" y2="948.90" stroke="#222222" stroke-width="3.8" stroke-linecap="butt"/>
<line x1="814.90" y1="931.70" x2="814.90" y2="948.90" stroke="#222222" stroke-width="3.8" stroke-linecap="butt"/>
<line x1="903.70" y1="931.70" x2="903.70" y2="948.90" stroke="#222222" stroke-width="3.8" stroke-linecap="butt"/>
<text x="625.71" y="978.70" font-size="20.7" fill="#1a1a1a">20</text>
<text x="714.77" y="978.70" font-size="20.7" fill="#1a1a1a">40</text>
<text x="803.31" y="978.70" font-size="20.7" fill="#1a1a1a">60</text>
<text x="892.16" y="978.70" font-size="20.7" fill="#1a1a1a">80</text>
<text x="636.46" y="1015.50" font-size="22.7" fill="#1a1a1a">Prediction interval [min]</text>
<text x="641.67" y="701.20" font-size="22.7" fill="#1a1a1a">Pooling Scale [km] = 4</text>
<line x1="972.40" y1="929.90" x2="1358.60" y2="929.90" stroke="#CCCCCC" stroke-width="3.2" stroke-linecap="butt"/>
<line x1="972.40" y1="878.85" x2="1358.60" y2="878.85" stroke="#CCCCCC" stroke-width="3.2" stroke-linecap="butt"/>
<line x1="972.40" y1="827.80" x2="1358.60" y2="827.80" stroke="#CCCCCC" stroke-width="3.2" stroke-linecap="butt"/>
<line x1="972.40" y1="776.75" x2="1358.60" y2="776.75" stroke="#CCCCCC" stroke-width="3.2" stroke-linecap="butt"/>
<line x1="972.40" y1="725.70" x2="1358.60" y2="725.70" stroke="#CCCCCC" stroke-width="3.2" stroke-linecap="butt"/>
<line x1="1047.80" y1="725.70" x2="1047.80" y2="929.90" stroke="#CCCCCC" stroke-width="3.2" stroke-linecap="butt"/>
<line x1="1136.60" y1="725.70" x2="1136.60" y2="929.90" stroke="#CCCCCC" stroke-width="3.2" stroke-linecap="butt"/>
<line x1="1225.40" y1="725.70" x2="1225.40" y2="929.90" stroke="#CCCCCC" stroke-width="3.2" stroke-linecap="butt"/>
<line x1="1314.20" y1="725.70" x2="1314.20" y2="929.90" stroke="#CCCCCC" stroke-width="3.2" stroke-linecap="butt"/>
<line x1="972.40" y1="724.10" x2="972.40" y2="931.50" stroke="#CCCCCC" stroke-width="3.5" stroke-linecap="butt"/>
<path d="M985.64,887.63 L1012.28,875.30 L1038.92,864.14 L1065.56,853.83 L1092.20,845.05 L1118.84,838.77 L1145.48,833.73 L1172.12,829.48 L1198.76,825.83 L1225.40,822.64 L1252.04,819.70 L1278.68,816.91 L1305.32,814.34 L1331.96,812.03 L1358.60,810.03" fill="none" stroke="#BBBBBB" stroke-width="5.3" stroke-linecap="round" stroke-linejoin="round" clip-path="url(#c6)"/>
<path d="M985.64,882.93 L1012.28,863.72 L1038.92,848.63 L1065.56,838.18 L1092.20,829.69 L1118.84,821.75 L1145.48,812.94 L1172.12,799.78 L1198.76,792.39 L1225.40,786.87 L1252.04,782.47 L1278.68,778.47 L1305.32,774.54 L1331.96,770.16 L1358.60,765.31" fill="none" stroke="#CCBB44" stroke-width="5.3" stroke-linecap="round" stroke-linejoin="round" clip-path="url(#c6)"/>
<path d="M985.64,884.36 L1012.28,862.51 L1038.92,833.93 L1065.56,813.51 L1092.20,790.02 L1118.84,777.57 L1145.48,752.86 L1172.12,746.53 L1198.76,726.52 L1225.40,709.36 L1252.04,693.03 L1278.68,676.18 L1305.32,659.04 L1331.96,641.53 L1358.60,623.60" fill="none" stroke="#AA3377" stroke-width="5.3" stroke-linecap="round" stroke-linejoin="round" clip-path="url(#c6)"/>
<path d="M985.64,884.36 L1012.28,858.95 L1038.92,845.09 L1065.56,831.63 L1092.20,817.93 L1118.84,808.06 L1145.48,800.78 L1172.12,795.29 L1198.76,790.82 L1225.40,786.89 L1252.04,783.05 L1278.68,779.43 L1305.32,775.39 L1331.96,774.09 L1358.60,777.57" fill="none" stroke="#AA3377" stroke-width="5.3" stroke-linecap="butt" stroke-linejoin="round" stroke-dasharray="5.45 8.99" clip-path="url(#c6)"/>
<path d="M985.64,893.76 L1012.28,886.94 L1038.92,879.19 L1065.56,869.92 L1092.20,860.45 L1118.84,853.37 L1145.48,847.11 L1172.12,840.00 L1198.76,832.10 L1225.40,825.68 L1252.04,821.48 L1278.68,818.02 L1305.32,814.65 L1331.96,811.49 L1358.60,808.61" fill="none" stroke="#8DBADD" stroke-width="5.3" stroke-linecap="round" stroke-linejoin="round" clip-path="url(#c6)"/>
<path d="M985.64,892.12 L1012.28,884.62 L1038.92,877.60 L1065.56,871.04 L1092.20,864.93 L1118.84,859.31 L1145.48,854.03 L1172.12,848.85 L1198.76,843.70 L1225.40,839.38 L1252.04,836.32 L1278.68,833.52 L1305.32,830.30 L1331.96,826.90 L1358.60,823.31" fill="none" stroke="#4477AA" stroke-width="5.3" stroke-linecap="butt" stroke-linejoin="round" stroke-dasharray="20.17 8.72" clip-path="url(#c6)"/>
<line x1="952.30" y1="929.90" x2="970.50" y2="929.90" stroke="#222222" stroke-width="3.8" stroke-linecap="butt"/>
<line x1="952.30" y1="878.85" x2="970.50" y2="878.85" stroke="#222222" stroke-width="3.8" stroke-linecap="butt"/>
<line x1="952.30" y1="827.80" x2="970.50" y2="827.80" stroke="#222222" stroke-width="3.8" stroke-linecap="butt"/>
<line x1="952.30" y1="776.75" x2="970.50" y2="776.75" stroke="#222222" stroke-width="3.8" stroke-linecap="butt"/>
<line x1="952.30" y1="725.70" x2="970.50" y2="725.70" stroke="#222222" stroke-width="3.8" stroke-linecap="butt"/>
<line x1="1047.80" y1="931.70" x2="1047.80" y2="948.90" stroke="#222222" stroke-width="3.8" stroke-linecap="butt"/>
<line x1="1136.60" y1="931.70" x2="1136.60" y2="948.90" stroke="#222222" stroke-width="3.8" stroke-linecap="butt"/>
<line x1="1225.40" y1="931.70" x2="1225.40" y2="948.90" stroke="#222222" stroke-width="3.8" stroke-linecap="butt"/>
<line x1="1314.20" y1="931.70" x2="1314.20" y2="948.90" stroke="#222222" stroke-width="3.8" stroke-linecap="butt"/>
<text x="1036.21" y="978.70" font-size="20.7" fill="#1a1a1a">20</text>
<text x="1125.27" y="978.70" font-size="20.7" fill="#1a1a1a">40</text>
<text x="1213.81" y="978.70" font-size="20.7" fill="#1a1a1a">60</text>
<text x="1302.66" y="978.70" font-size="20.7" fill="#1a1a1a">80</text>
<text x="1046.96" y="1015.50" font-size="22.7" fill="#1a1a1a">Prediction interval [min]</text>
<text x="1046.23" y="701.20" font-size="22.7" fill="#1a1a1a">Pooling Scale [km] = 16</text>
<line x1="126.00" y1="1329.00" x2="520.60" y2="1329.00" stroke="#CCCCCC" stroke-width="3.2" stroke-linecap="butt"/>
<line x1="126.00" y1="1261.80" x2="520.60" y2="1261.80" stroke="#CCCCCC" stroke-width="3.2" stroke-linecap="butt"/>
<line x1="126.00" y1="1194.60" x2="520.60" y2="1194.60" stroke="#CCCCCC" stroke-width="3.2" stroke-linecap="butt"/>
<line x1="126.00" y1="1127.40" x2="520.60" y2="1127.40" stroke="#CCCCCC" stroke-width="3.2" stroke-linecap="butt"/>
<line x1="203.50" y1="1127.40" x2="203.50" y2="1329.00" stroke="#CCCCCC" stroke-width="3.2" stroke-linecap="butt"/>
<line x1="294.10" y1="1127.40" x2="294.10" y2="1329.00" stroke="#CCCCCC" stroke-width="3.2" stroke-linecap="butt"/>
<line x1="384.70" y1="1127.40" x2="384.70" y2="1329.00" stroke="#CCCCCC" stroke-width="3.2" stroke-linecap="butt"/>
<line x1="475.30" y1="1127.40" x2="475.30" y2="1329.00" stroke="#CCCCCC" stroke-width="3.2" stroke-linecap="butt"/>
<line x1="126.00" y1="1125.80" x2="126.00" y2="1330.60" stroke="#CCCCCC" stroke-width="3.5" stroke-linecap="butt"/>
<path d="M140.08,1317.58 L167.26,1315.42 L194.44,1313.66 L221.62,1312.42 L248.80,1311.41 L275.98,1310.60 L303.16,1310.01 L330.34,1309.55 L357.52,1309.17 L384.70,1308.84 L411.88,1308.52 L439.06,1308.22 L466.24,1307.95 L493.42,1307.70 L520.60,1307.50" fill="none" stroke="#BBBBBB" stroke-width="5.3" stroke-linecap="round" stroke-linejoin="round" clip-path="url(#c7)"/>
<path d="M140.08,1314.05 L167.26,1310.52 L194.44,1307.69 L221.62,1305.86 L248.80,1304.52 L275.98,1303.37 L303.16,1302.18 L330.34,1300.91 L357.52,1299.72 L384.70,1298.76 L411.88,1298.06 L439.06,1297.47 L466.24,1296.93 L493.42,1296.37 L520.60,1295.84" fill="none" stroke="#CCBB44" stroke-width="5.3" stroke-linecap="round" stroke-linejoin="round" clip-path="url(#c7)"/>
<path d="M140.08,1318.25 L167.26,1316.09 L194.44,1314.33 L221.62,1313.10 L248.80,1312.12 L275.98,1311.31 L303.16,1310.64 L330.34,1310.07 L357.52,1309.58 L384.70,1309.18 L411.88,1308.83 L439.06,1308.51 L466.24,1308.23 L493.42,1308.00 L520.60,1307.83" fill="none" stroke="#AA3377" stroke-width="5.3" stroke-linecap="round" stroke-linejoin="round" clip-path="url(#c7)"/>
<path d="M140.08,1316.37 L167.26,1313.36 L194.44,1311.04 L221.62,1309.72 L248.80,1308.80 L275.98,1308.06 L303.16,1307.30 L330.34,1306.48 L357.52,1305.75 L384.70,1305.24 L411.88,1304.91 L439.06,1304.60 L466.24,1304.36 L493.42,1304.20 L520.60,1304.14" fill="none" stroke="#AA3377" stroke-width="5.3" stroke-linecap="butt" stroke-linejoin="round" stroke-dasharray="5.45 8.99" clip-path="url(#c7)"/>
<path d="M140.08,1317.91 L167.26,1315.74 L194.44,1313.95 L221.62,1312.88 L248.80,1312.04 L275.98,1311.33 L303.16,1310.72 L330.34,1310.19 L357.52,1309.68 L384.70,1309.18 L411.88,1308.67 L439.06,1308.20 L466.24,1307.76 L493.42,1307.36 L520.60,1306.99" fill="none" stroke="#8DBADD" stroke-width="5.3" stroke-linecap="round" stroke-linejoin="round" clip-path="url(#c7)"/>
<path d="M140.08,1318.72 L167.26,1317.06 L194.44,1315.63 L221.62,1314.49 L248.80,1313.50 L275.98,1312.67 L303.16,1311.99 L330.34,1311.44 L357.52,1310.97 L384.70,1310.52 L411.88,1310.08 L439.06,1309.65 L466.24,1309.24 L493.42,1308.86 L520.60,1308.50" fill="none" stroke="#4477AA" stroke-width="5.3" stroke-linecap="butt" stroke-linejoin="round" stroke-dasharray="20.17 8.72" clip-path="url(#c7)"/>
<line x1="105.90" y1="1329.00" x2="124.10" y2="1329.00" stroke="#222222" stroke-width="3.8" stroke-linecap="butt"/>
<line x1="105.90" y1="1261.80" x2="124.10" y2="1261.80" stroke="#222222" stroke-width="3.8" stroke-linecap="butt"/>
<line x1="105.90" y1="1194.60" x2="124.10" y2="1194.60" stroke="#222222" stroke-width="3.8" stroke-linecap="butt"/>
<line x1="105.90" y1="1127.40" x2="124.10" y2="1127.40" stroke="#222222" stroke-width="3.8" stroke-linecap="butt"/>
<line x1="203.50" y1="1330.80" x2="203.50" y2="1348.00" stroke="#222222" stroke-width="3.8" stroke-linecap="butt"/>
<line x1="294.10" y1="1330.80" x2="294.10" y2="1348.00" stroke="#222222" stroke-width="3.8" stroke-linecap="butt"/>
<line x1="384.70" y1="1330.80" x2="384.70" y2="1348.00" stroke="#222222" stroke-width="3.8" stroke-linecap="butt"/>
<line x1="475.30" y1="1330.80" x2="475.30" y2="1348.00" stroke="#222222" stroke-width="3.8" stroke-linecap="butt"/>
<text x="63.92" y="1336.47" font-size="20.5" fill="#1a1a1a">0.0</text>
<text x="64.13" y="1269.27" font-size="20.5" fill="#1a1a1a">0.2</text>
<text x="63.72" y="1202.07" font-size="20.5" fill="#1a1a1a">0.4</text>
<text x="64.03" y="1134.87" font-size="20.5" fill="#1a1a1a">0.6</text>
<text x="0" y="0" font-size="22.45" fill="#1a1a1a" transform="translate(44.70,1322.77) rotate(-90)">Max-Pooled CRPS</text>
<text x="192.02" y="1377.80" font-size="20.5" fill="#1a1a1a">20</text>
<text x="282.88" y="1377.80" font-size="20.5" fill="#1a1a1a">40</text>
<text x="373.22" y="1377.80" font-size="20.5" fill="#1a1a1a">60</text>
<text x="463.87" y="1377.80" font-size="20.5" fill="#1a1a1a">80</text>
<text x="207.16" y="1414.60" font-size="22.45" fill="#1a1a1a">Prediction interval [min]</text>
<text x="209.74" y="1102.90" font-size="22.45" fill="#1a1a1a">Pooling Scale [km] = 1</text>
<line x1="545.40" y1="1329.00" x2="939.40" y2="1329.00" stroke="#CCCCCC" stroke-width="3.2" stroke-linecap="butt"/>
<line x1="545.40" y1="1261.80" x2="939.40" y2="1261.80" stroke="#CCCCCC" stroke-width="3.2" stroke-linecap="butt"/>
<line x1="545.40" y1="1194.60" x2="939.40" y2="1194.60" stroke="#CCCCCC" stroke-width="3.2" stroke-linecap="butt"/>
<line x1="545.40" y1="1127.40" x2="939.40" y2="1127.40" stroke="#CCCCCC" stroke-width="3.2" stroke-linecap="butt"/>
<line x1="622.30" y1="1127.40" x2="622.30" y2="1329.00" stroke="#CCCCCC" stroke-width="3.2" stroke-linecap="butt"/>
<line x1="712.90" y1="1127.40" x2="712.90" y2="1329.00" stroke="#CCCCCC" stroke-width="3.2" stroke-linecap="butt"/>
<line x1="803.50" y1="1127.40" x2="803.50" y2="1329.00" stroke="#CCCCCC" stroke-width="3.2" stroke-linecap="butt"/>
<line x1="894.10" y1="1127.40" x2="894.10" y2="1329.00" stroke="#CCCCCC" stroke-width="3.2" stroke-linecap="butt"/>
<line x1="545.40" y1="1125.80" x2="545.40" y2="1330.60" stroke="#CCCCCC" stroke-width="3.5" stroke-linecap="butt"/>
<path d="M558.88,1308.17 L586.06,1303.48 L613.24,1299.71 L640.42,1297.18 L667.60,1295.21 L694.78,1293.62 L721.96,1292.30 L749.14,1291.20 L776.32,1290.25 L803.50,1289.35 L830.68,1288.46 L857.86,1287.61 L885.04,1286.80 L912.22,1286.03 L939.40,1285.32" fill="none" stroke="#BBBBBB" stroke-width="5.3" stroke-linecap="round" stroke-linejoin="round" clip-path="url(#c8)"/>
<path d="M558.88,1305.82 L586.06,1300.53 L613.24,1296.46 L640.42,1293.80 L667.60,1291.83 L694.78,1290.09 L721.96,1288.51 L749.14,1287.19 L776.32,1286.08 L803.50,1285.03 L830.68,1284.04 L857.86,1283.15 L885.04,1282.38 L912.22,1281.75 L939.40,1281.29" fill="none" stroke="#CCBB44" stroke-width="5.3" stroke-linecap="round" stroke-linejoin="round" clip-path="url(#c8)"/>
<path d="M558.88,1294.73 L586.06,1274.23 L613.24,1258.44 L640.42,1243.32 L667.60,1228.54 L694.78,1216.10 L721.96,1200.98 L749.14,1193.59 L776.32,1177.46 L803.50,1172.42 L830.68,1166.04 L857.86,1150.92 L885.04,1140.84 L912.22,1130.76 L939.40,1134.12" fill="none" stroke="#AA3377" stroke-width="5.3" stroke-linecap="round" stroke-linejoin="round" clip-path="url(#c8)"/>
<path d="M558.88,1305.82 L586.06,1297.08 L613.24,1290.81 L640.42,1285.08 L667.60,1279.34 L694.78,1275.27 L721.96,1272.22 L749.14,1268.54 L776.32,1266.36 L803.50,1265.83 L830.68,1265.54 L857.86,1265.16 L885.04,1261.65 L912.22,1258.44 L939.40,1261.80" fill="none" stroke="#AA3377" stroke-width="5.3" stroke-linecap="butt" stroke-linejoin="round" stroke-dasharray="5.45 8.99" clip-path="url(#c8)"/>
<path d="M558.88,1309.51 L586.06,1305.74 L613.24,1302.67 L640.42,1300.53 L667.60,1298.77 L694.78,1297.29 L721.96,1296.04 L749.14,1294.92 L776.32,1293.85 L803.50,1292.83 L830.68,1291.89 L857.86,1291.06 L885.04,1290.34 L912.22,1289.77 L939.40,1289.35" fill="none" stroke="#8DBADD" stroke-width="5.3" stroke-linecap="round" stroke-linejoin="round" clip-path="url(#c8)"/>
<path d="M558.88,1310.86 L586.06,1307.64 L613.24,1304.97 L640.42,1303.00 L667.60,1301.32 L694.78,1299.90 L721.96,1298.71 L749.14,1297.68 L776.32,1296.69 L803.50,1295.76 L830.68,1294.91 L857.86,1294.16 L885.04,1293.53 L912.22,1293.04 L939.40,1292.71" fill="none" stroke="#4477AA" stroke-width="5.3" stroke-linecap="butt" stroke-linejoin="round" stroke-dasharray="20.17 8.72" clip-path="url(#c8)"/>
<line x1="525.30" y1="1329.00" x2="543.50" y2="1329.00" stroke="#222222" stroke-width="3.8" stroke-linecap="butt"/>
<line x1="525.30" y1="1261.80" x2="543.50" y2="1261.80" stroke="#222222" stroke-width="3.8" stroke-linecap="butt"/>
<line x1="525.30" y1="1194.60" x2="543.50" y2="1194.60" stroke="#222222" stroke-width="3.8" stroke-linecap="butt"/>
<line x1="525.30" y1="1127.40" x2="543.50" y2="1127.40" stroke="#222222" stroke-width="3.8" stroke-linecap="butt"/>
<line x1="622.30" y1="1330.80" x2="622.30" y2="1348.00" stroke="#222222" stroke-width="3.8" stroke-linecap="butt"/>
<line x1="712.90" y1="1330.80" x2="712.90" y2="1348.00" stroke="#222222" stroke-width="3.8" stroke-linecap="butt"/>
<line x1="803.50" y1="1330.80" x2="803.50" y2="1348.00" stroke="#222222" stroke-width="3.8" stroke-linecap="butt"/>
<line x1="894.10" y1="1330.80" x2="894.10" y2="1348.00" stroke="#222222" stroke-width="3.8" stroke-linecap="butt"/>
<text x="610.82" y="1377.80" font-size="20.5" fill="#1a1a1a">20</text>
<text x="701.68" y="1377.80" font-size="20.5" fill="#1a1a1a">40</text>
<text x="792.02" y="1377.80" font-size="20.5" fill="#1a1a1a">60</text>
<text x="882.67" y="1377.80" font-size="20.5" fill="#1a1a1a">80</text>
<text x="626.26" y="1414.60" font-size="22.45" fill="#1a1a1a">Prediction interval [min]</text>
<text x="630.47" y="1102.90" font-size="22.45" fill="#1a1a1a">Pooling Scale [km] = 4</text>
<line x1="964.20" y1="1329.00" x2="1358.40" y2="1329.00" stroke="#CCCCCC" stroke-width="3.2" stroke-linecap="butt"/>
<line x1="964.20" y1="1261.80" x2="1358.40" y2="1261.80" stroke="#CCCCCC" stroke-width="3.2" stroke-linecap="butt"/>
<line x1="964.20" y1="1194.60" x2="1358.40" y2="1194.60" stroke="#CCCCCC" stroke-width="3.2" stroke-linecap="butt"/>
<line x1="964.20" y1="1127.40" x2="1358.40" y2="1127.40" stroke="#CCCCCC" stroke-width="3.2" stroke-linecap="butt"/>
<line x1="1041.30" y1="1127.40" x2="1041.30" y2="1329.00" stroke="#CCCCCC" stroke-width="3.2" stroke-linecap="butt"/>
<line x1="1131.90" y1="1127.40" x2="1131.90" y2="1329.00" stroke="#CCCCCC" stroke-width="3.2" stroke-linecap="butt"/>
<line x1="1222.50" y1="1127.40" x2="1222.50" y2="1329.00" stroke="#CCCCCC" stroke-width="3.2" stroke-linecap="butt"/>
<line x1="1313.10" y1="1127.40" x2="1313.10" y2="1329.00" stroke="#CCCCCC" stroke-width="3.2" stroke-linecap="butt"/>
<line x1="964.20" y1="1125.80" x2="964.20" y2="1330.60" stroke="#CCCCCC" stroke-width="3.5" stroke-linecap="butt"/>
<path d="M977.88,1266.84 L1005.06,1251.38 L1032.24,1241.84 L1059.42,1234.36 L1086.60,1228.00 L1113.78,1221.90 L1140.96,1217.68 L1168.14,1214.91 L1195.32,1212.73 L1222.50,1210.81 L1249.68,1208.98 L1276.86,1207.28 L1304.04,1205.75 L1331.22,1204.42 L1358.40,1203.34" fill="none" stroke="#BBBBBB" stroke-width="5.3" stroke-linecap="round" stroke-linejoin="round" clip-path="url(#c9)"/>
<path d="M977.88,1259.11 L1005.06,1241.98 L1032.24,1232.70 L1059.42,1225.07 L1086.60,1218.61 L1113.78,1213.56 L1140.96,1210.12 L1168.14,1207.79 L1195.32,1205.90 L1222.50,1204.09 L1249.68,1202.19 L1276.86,1200.40 L1304.04,1198.95 L1331.22,1197.96 L1358.40,1197.29" fill="none" stroke="#CCBB44" stroke-width="5.3" stroke-linecap="round" stroke-linejoin="round" clip-path="url(#c9)"/>
<path d="M977.88,1193.93 L1005.06,1110.60 L1032.24,1026.60 L1059.42,975.76 L1086.60,927.21 L1113.78,881.35 L1140.96,838.60 L1168.14,799.35 L1195.32,764.02 L1222.50,733.02 L1249.68,706.73 L1276.86,685.58 L1304.04,669.97 L1331.22,660.31 L1358.40,657.00" fill="none" stroke="#AA3377" stroke-width="5.3" stroke-linecap="round" stroke-linejoin="round" clip-path="url(#c9)"/>
<path d="M977.88,1263.82 L1005.06,1245.34 L1032.24,1232.17 L1059.42,1222.62 L1086.60,1214.07 L1113.78,1200.20 L1140.96,1190.45 L1168.14,1185.66 L1195.32,1179.38 L1222.50,1173.50 L1249.68,1169.40 L1276.86,1156.21 L1304.04,1149.31 L1331.22,1143.19 L1358.40,1146.89" fill="none" stroke="#AA3377" stroke-width="5.3" stroke-linecap="butt" stroke-linejoin="round" stroke-dasharray="5.45 8.99" clip-path="url(#c9)"/>
<path d="M977.88,1279.27 L1005.06,1269.17 L1032.24,1260.34 L1059.42,1252.83 L1086.60,1246.48 L1113.78,1240.92 L1140.96,1236.03 L1168.14,1231.75 L1195.32,1228.65 L1222.50,1226.23 L1249.68,1224.34 L1276.86,1222.71 L1304.04,1221.01 L1331.22,1219.00 L1358.40,1216.78" fill="none" stroke="#8DBADD" stroke-width="5.3" stroke-linecap="round" stroke-linejoin="round" clip-path="url(#c9)"/>
<path d="M977.88,1281.62 L1005.06,1273.90 L1032.24,1266.47 L1059.42,1259.13 L1086.60,1252.55 L1113.78,1247.89 L1140.96,1244.17 L1168.14,1241.00 L1195.32,1238.19 L1222.50,1235.59 L1249.68,1233.27 L1276.86,1231.13 L1304.04,1228.89 L1331.22,1226.32 L1358.40,1223.50" fill="none" stroke="#4477AA" stroke-width="5.3" stroke-linecap="butt" stroke-linejoin="round" stroke-dasharray="20.17 8.72" clip-path="url(#c9)"/>
<line x1="944.10" y1="1329.00" x2="962.30" y2="1329.00" stroke="#222222" stroke-width="3.8" stroke-linecap="butt"/>
<line x1="944.10" y1="1261.80" x2="962.30" y2="1261.80" stroke="#222222" stroke-width="3.8" stroke-linecap="butt"/>
<line x1="944.10" y1="1194.60" x2="962.30" y2="1194.60" stroke="#222222" stroke-width="3.8" stroke-linecap="butt"/>
<line x1="944.10" y1="1127.40" x2="962.30" y2="1127.40" stroke="#222222" stroke-width="3.8" stroke-linecap="butt"/>
<line x1="1041.30" y1="1330.80" x2="1041.30" y2="1348.00" stroke="#222222" stroke-width="3.8" stroke-linecap="butt"/>
<line x1="1131.90" y1="1330.80" x2="1131.90" y2="1348.00" stroke="#222222" stroke-width="3.8" stroke-linecap="butt"/>
<line x1="1222.50" y1="1330.80" x2="1222.50" y2="1348.00" stroke="#222222" stroke-width="3.8" stroke-linecap="butt"/>
<line x1="1313.10" y1="1330.80" x2="1313.10" y2="1348.00" stroke="#222222" stroke-width="3.8" stroke-linecap="butt"/>
<text x="1029.82" y="1377.80" font-size="20.5" fill="#1a1a1a">20</text>
<text x="1120.68" y="1377.80" font-size="20.5" fill="#1a1a1a">40</text>
<text x="1211.02" y="1377.80" font-size="20.5" fill="#1a1a1a">60</text>
<text x="1301.67" y="1377.80" font-size="20.5" fill="#1a1a1a">80</text>
<text x="1045.16" y="1414.60" font-size="22.45" fill="#1a1a1a">Prediction interval [min]</text>
<text x="1043.20" y="1102.90" font-size="22.45" fill="#1a1a1a">Pooling Scale [km] = 16</text>
<line x1="106.30" y1="1839.80" x2="422.30" y2="1839.80" stroke="#CCCCCC" stroke-width="2.0" stroke-linecap="butt"/>
<line x1="106.30" y1="1768.32" x2="422.30" y2="1768.32" stroke="#CCCCCC" stroke-width="2.0" stroke-linecap="butt"/>
<line x1="106.30" y1="1696.84" x2="422.30" y2="1696.84" stroke="#CCCCCC" stroke-width="2.0" stroke-linecap="butt"/>
<line x1="106.30" y1="1625.36" x2="422.30" y2="1625.36" stroke="#CCCCCC" stroke-width="2.0" stroke-linecap="butt"/>
<line x1="106.30" y1="1553.88" x2="422.30" y2="1553.88" stroke="#CCCCCC" stroke-width="2.0" stroke-linecap="butt"/>
<line x1="120.60" y1="1546.80" x2="120.60" y2="1853.90" stroke="#CCCCCC" stroke-width="2.0" stroke-linecap="butt"/>
<line x1="178.08" y1="1546.80" x2="178.08" y2="1853.90" stroke="#CCCCCC" stroke-width="2.0" stroke-linecap="butt"/>
<line x1="235.56" y1="1546.80" x2="235.56" y2="1853.90" stroke="#CCCCCC" stroke-width="2.0" stroke-linecap="butt"/>
<line x1="293.04" y1="1546.80" x2="293.04" y2="1853.90" stroke="#CCCCCC" stroke-width="2.0" stroke-linecap="butt"/>
<line x1="350.52" y1="1546.80" x2="350.52" y2="1853.90" stroke="#CCCCCC" stroke-width="2.0" stroke-linecap="butt"/>
<line x1="408.00" y1="1546.80" x2="408.00" y2="1853.90" stroke="#CCCCCC" stroke-width="2.0" stroke-linecap="butt"/>
<rect x="106.3" y="1546.8" width="316.0" height="307.1" fill="none" stroke="#CCCCCC" stroke-width="2.8"/>
<path d="M120.60,1839.80 L134.97,1611.06 L136.12,1615.72 L137.27,1620.19 L138.42,1624.43 L139.57,1628.39 L140.72,1632.02 L141.87,1635.32 L143.02,1638.41 L144.17,1641.31 L145.32,1644.07 L146.47,1646.69 L147.62,1649.22 L148.77,1651.67 L149.91,1654.07 L151.06,1656.38 L152.21,1658.61 L153.36,1660.77 L154.51,1662.87 L155.66,1664.92 L156.81,1666.93 L157.96,1668.92 L159.11,1670.88 L160.26,1672.83 L161.41,1674.74 L162.56,1676.62 L163.71,1678.48 L164.86,1680.30 L166.01,1682.08 L167.16,1683.84 L168.31,1685.56 L169.46,1687.25 L170.61,1688.90 L171.76,1690.50 L172.91,1692.07 L174.06,1693.61 L175.21,1695.14 L176.36,1696.66 L177.51,1698.18 L178.65,1699.70 L179.80,1701.24 L180.95,1702.78 L182.10,1704.33 L183.25,1705.87 L184.40,1707.40 L185.55,1708.92 L186.70,1710.42 L187.85,1711.89 L189.00,1713.33 L190.15,1714.72 L191.30,1716.08 L192.45,1717.41 L193.60,1718.70 L194.75,1719.98 L195.90,1721.23 L197.05,1722.46 L198.20,1723.69 L199.35,1724.90 L200.50,1726.11 L201.65,1727.33 L202.80,1728.54 L203.95,1729.77 L205.10,1731.01 L206.25,1732.24 L207.39,1733.46 L208.54,1734.67 L209.69,1735.86 L210.84,1737.01 L211.99,1738.13 L213.14,1739.21 L214.29,1740.24 L215.44,1741.22 L216.59,1742.16 L217.74,1743.08 L218.89,1743.98 L220.04,1744.85 L221.19,1745.72 L222.34,1746.59 L223.49,1747.46 L224.64,1748.35 L225.79,1749.25 L226.94,1750.15 L228.09,1751.05 L229.24,1751.95 L230.39,1752.85 L231.54,1753.75 L232.69,1754.66 L233.84,1755.56 L234.99,1756.47 L236.13,1757.39 L237.28,1758.31 L238.43,1759.24 L239.58,1760.19 L240.73,1761.14 L241.88,1762.10 L243.03,1763.07 L244.18,1764.04 L245.33,1765.02 L246.48,1766.01 L247.63,1767.00 L248.78,1767.99 L249.93,1768.98 L251.08,1769.97 L252.23,1770.97 L253.38,1771.96 L254.53,1772.95 L255.68,1773.93 L256.83,1774.91 L257.98,1775.88 L259.13,1776.85 L260.28,1777.81 L261.43,1778.75 L262.58,1779.69 L263.73,1780.62 L264.87,1781.54 L266.02,1782.44 L267.17,1783.33 L268.32,1784.20 L269.47,1785.05 L270.62,1785.89 L271.77,1786.72 L272.92,1787.54 L274.07,1788.35 L275.22,1789.16 L276.37,1789.95 L277.52,1790.74 L278.67,1791.52 L279.82,1792.29 L280.97,1793.06 L282.12,1793.81 L283.27,1794.57 L284.42,1795.31 L285.57,1796.05 L286.72,1796.78 L287.87,1797.51 L289.02,1798.23 L290.17,1798.95 L291.32,1799.66 L292.47,1800.36 L293.61,1801.07 L294.76,1801.76 L295.91,1802.46 L297.06,1803.15 L298.21,1803.83 L299.36,1804.50 L300.51,1805.16 L301.66,1805.82 L302.81,1806.47 L303.96,1807.11 L305.11,1807.75 L306.26,1808.39 L307.41,1809.02 L308.56,1809.64 L309.71,1810.27 L310.86,1810.89 L312.01,1811.51 L313.16,1812.13 L314.31,1812.75 L315.46,1813.37 L316.61,1813.99 L317.76,1814.61 L318.91,1815.23 L320.06,1815.86 L321.21,1816.49 L322.35,1817.12 L323.50,1817.76 L324.65,1818.41 L325.80,1819.07 L326.95,1819.73 L328.10,1820.39 L329.25,1821.06 L330.40,1821.74 L331.55,1822.41 L332.70,1823.08 L333.85,1823.75 L335.00,1824.42 L336.15,1825.09 L337.30,1825.75 L338.45,1826.40 L339.60,1827.05 L340.75,1827.68 L341.90,1828.31 L343.05,1828.93 L344.20,1829.53 L345.35,1830.12 L346.50,1830.70 L347.65,1831.26 L348.80,1831.80 L349.95,1832.33 L351.09,1832.85 L352.24,1833.36 L353.39,1833.85 L354.54,1834.34 L355.69,1834.81 L356.84,1835.28 L357.99,1835.73 L359.14,1836.17 L360.29,1836.59 L361.44,1837.00 L362.59,1837.40 L363.74,1837.83 L364.89,1838.29 L366.04,1838.74 L367.19,1839.15 L368.34,1839.49 L369.49,1839.72 L370.64,1839.80 L371.79,1839.80 L372.94,1839.80 L374.09,1839.80 L375.24,1839.80 L376.39,1839.80 L377.54,1839.80 L378.69,1839.80 L379.83,1839.80 L380.98,1839.80 L382.13,1839.80 L383.28,1839.80 L384.43,1839.80 L385.58,1839.80 L386.73,1839.80 L387.88,1839.80 L389.03,1839.80 L390.18,1839.80 L391.33,1839.80 L392.48,1839.80 L393.63,1839.80 L394.78,1839.80 L395.93,1839.80 L397.08,1839.80 L398.23,1839.80 L399.38,1839.80 L400.53,1839.80 L401.68,1839.80 L402.83,1839.80 L403.98,1839.80 L405.13,1839.80 L406.28,1839.80 L407.43,1839.80" fill="none" stroke="#BBBBBB" stroke-width="4.6" stroke-linecap="round" stroke-linejoin="round"/>
<path d="M120.60,1839.80 L134.97,1596.77 L136.12,1597.27 L137.27,1597.80 L138.42,1598.35 L139.57,1598.92 L140.72,1599.51 L141.87,1600.12 L143.02,1600.75 L144.17,1601.39 L145.32,1602.06 L146.47,1602.74 L147.62,1603.44 L148.77,1604.15 L149.91,1604.88 L151.06,1605.63 L152.21,1606.39 L153.36,1607.17 L154.51,1607.97 L155.66,1608.80 L156.81,1609.66 L157.96,1610.54 L159.11,1611.45 L160.26,1612.38 L161.41,1613.33 L162.56,1614.31 L163.71,1615.30 L164.86,1616.31 L166.01,1617.33 L167.16,1618.38 L168.31,1619.44 L169.46,1620.51 L170.61,1621.59 L171.76,1622.68 L172.91,1623.79 L174.06,1624.90 L175.21,1626.02 L176.36,1627.15 L177.51,1628.28 L178.65,1629.42 L179.80,1630.57 L180.95,1631.73 L182.10,1632.90 L183.25,1634.09 L184.40,1635.30 L185.55,1636.52 L186.70,1637.76 L187.85,1639.02 L189.00,1640.31 L190.15,1641.61 L191.30,1642.95 L192.45,1644.31 L193.60,1645.70 L194.75,1647.13 L195.90,1648.58 L197.05,1650.07 L198.20,1651.59 L199.35,1653.16 L200.50,1654.77 L201.65,1656.46 L202.80,1658.25 L203.95,1660.12 L205.10,1662.06 L206.25,1664.06 L207.39,1666.11 L208.54,1668.20 L209.69,1670.33 L210.84,1672.48 L211.99,1674.64 L213.14,1676.81 L214.29,1678.97 L215.44,1681.12 L216.59,1683.25 L217.74,1685.35 L218.89,1687.40 L220.04,1689.41 L221.19,1691.39 L222.34,1693.35 L223.49,1695.29 L224.64,1697.22 L225.79,1699.16 L226.94,1701.09 L228.09,1703.04 L229.24,1705.01 L230.39,1707.01 L231.54,1709.04 L232.69,1711.11 L233.84,1713.22 L234.99,1715.39 L236.13,1717.62 L237.28,1719.89 L238.43,1722.21 L239.58,1724.57 L240.73,1726.98 L241.88,1729.42 L243.03,1731.91 L244.18,1734.43 L245.33,1737.00 L246.48,1739.60 L247.63,1742.24 L248.78,1744.91 L249.93,1747.62 L251.08,1750.39 L252.23,1753.27 L253.38,1756.23 L254.53,1759.27 L255.68,1762.35 L256.83,1765.47 L257.98,1768.60 L259.13,1771.71 L260.28,1774.80 L261.43,1777.84 L262.58,1780.81 L263.73,1783.68 L264.87,1786.38 L266.02,1788.97 L267.17,1791.56 L268.32,1794.24 L269.47,1797.14 L270.62,1800.42 L271.77,1804.43 L272.92,1808.91 L274.07,1813.52 L275.22,1817.90 L276.37,1821.72 L277.52,1824.61 L278.67,1826.56 L279.82,1828.22 L280.97,1829.66 L282.12,1830.93 L283.27,1832.08 L284.42,1833.15 L285.57,1834.18 L286.72,1835.20 L287.87,1836.18 L289.02,1837.10 L290.17,1837.96 L291.32,1838.75 L292.47,1839.47" fill="none" stroke="#CCBB44" stroke-width="4.6" stroke-linecap="round" stroke-linejoin="round"/>
<path d="M120.60,1839.80 L134.97,1560.31 L136.12,1562.55 L137.27,1564.81 L138.42,1567.08 L139.57,1569.37 L140.72,1571.68 L141.87,1574.00 L143.02,1576.34 L144.17,1578.69 L145.32,1581.05 L146.47,1583.44 L147.62,1585.83 L148.77,1588.24 L149.91,1590.66 L151.06,1593.09 L152.21,1595.54 L153.36,1598.01 L154.51,1600.54 L155.66,1603.13 L156.81,1605.77 L157.96,1608.43 L159.11,1611.10 L160.26,1613.77 L161.41,1616.42 L162.56,1619.03 L163.71,1621.59 L164.86,1624.08 L166.01,1626.48 L167.16,1628.79 L168.31,1631.04 L169.46,1633.25 L170.61,1635.42 L171.76,1637.54 L172.91,1639.63 L174.06,1641.66 L175.21,1643.65 L176.36,1645.59 L177.51,1647.48 L178.65,1649.31 L179.80,1651.05 L180.95,1652.68 L182.10,1654.24 L183.25,1655.74 L184.40,1657.23 L185.55,1658.72 L186.70,1660.24 L187.85,1661.82 L189.00,1663.49 L190.15,1665.28 L191.30,1667.19 L192.45,1669.22 L193.60,1671.33 L194.75,1673.54 L195.90,1675.82 L197.05,1678.17 L198.20,1680.57 L199.35,1683.03 L200.50,1685.53 L201.65,1688.06 L202.80,1690.63 L203.95,1693.29 L205.10,1696.04 L206.25,1698.88 L207.39,1701.79 L208.54,1704.75 L209.69,1707.74 L210.84,1710.77 L211.99,1713.80 L213.14,1716.84 L214.29,1719.85 L215.44,1722.84 L216.59,1725.79 L217.74,1728.67 L218.89,1731.49 L220.04,1734.24 L221.19,1736.95 L222.34,1739.63 L223.49,1742.30 L224.64,1744.99 L225.79,1747.70 L226.94,1750.45 L228.09,1753.20 L229.24,1755.92 L230.39,1758.64 L231.54,1761.40 L232.69,1764.24 L233.84,1767.18 L234.99,1770.28 L236.13,1773.57 L237.28,1777.10 L238.43,1780.82 L239.58,1784.70 L240.73,1788.67 L241.88,1792.69 L243.03,1796.71 L244.18,1800.76 L245.33,1805.26 L246.48,1809.93 L247.63,1814.40 L248.78,1818.29 L249.93,1821.22 L251.08,1823.52 L252.23,1825.77 L253.38,1827.94 L254.53,1830.00 L255.68,1831.94 L256.83,1833.72 L257.98,1835.32 L259.13,1836.72 L260.28,1837.88 L261.43,1838.80 L262.58,1839.43 L263.73,1839.76 L264.87,1839.80 L266.02,1839.80 L267.17,1839.80 L268.32,1839.80 L269.47,1839.80 L270.62,1839.80 L271.77,1839.80 L272.92,1839.80 L274.07,1839.80 L275.22,1839.80 L276.37,1839.80 L277.52,1839.80 L278.67,1839.80 L279.82,1839.80 L280.97,1839.80 L282.12,1839.80 L283.27,1839.80 L284.42,1839.80 L285.57,1839.80 L286.72,1839.80 L287.87,1839.80 L289.02,1839.80 L290.17,1839.80 L291.32,1839.80 L292.47,1839.80 L293.61,1839.80 L294.76,1839.80 L295.91,1839.80 L297.06,1839.80 L298.21,1839.80 L299.36,1839.80 L300.51,1839.80 L301.66,1839.80 L302.81,1839.80 L303.96,1839.80 L305.11,1839.80 L306.26,1839.80 L307.41,1839.80 L308.56,1839.80 L309.71,1839.80 L310.86,1839.80 L312.01,1839.80 L313.16,1839.80 L314.31,1839.80 L315.46,1839.80 L316.61,1839.80 L317.76,1839.80 L318.91,1839.80 L320.06,1839.80 L321.21,1839.80 L322.35,1839.80 L323.50,1839.80 L324.65,1839.80 L325.80,1839.80 L326.95,1839.80 L328.10,1839.80 L329.25,1839.80 L330.40,1839.80 L331.55,1839.80 L332.70,1839.80 L333.85,1839.80 L335.00,1839.80 L336.15,1839.80 L337.30,1839.80 L338.45,1839.80 L339.60,1839.80 L340.75,1839.80 L341.90,1839.80 L343.05,1839.80 L344.20,1839.80 L345.35,1839.80 L346.50,1839.80 L347.65,1839.80 L348.80,1839.80 L349.95,1839.80" fill="none" stroke="#AA3377" stroke-width="4.6" stroke-linecap="round" stroke-linejoin="round"/>
<path d="M120.60,1839.80 L134.97,1563.89 L136.12,1566.52 L137.27,1569.12 L138.42,1571.69 L139.57,1574.24 L140.72,1576.75 L141.87,1579.23 L143.02,1581.68 L144.17,1584.10 L145.32,1586.48 L146.47,1588.83 L147.62,1591.15 L148.77,1593.42 L149.91,1595.66 L151.06,1597.87 L152.21,1600.04 L153.36,1602.19 L154.51,1604.32 L155.66,1606.42 L156.81,1608.49 L157.96,1610.53 L159.11,1612.54 L160.26,1614.53 L161.41,1616.48 L162.56,1618.41 L163.71,1620.31 L164.86,1622.17 L166.01,1624.01 L167.16,1625.81 L168.31,1627.60 L169.46,1629.37 L170.61,1631.12 L171.76,1632.85 L172.91,1634.53 L174.06,1636.18 L175.21,1637.77 L176.36,1639.30 L177.51,1640.77 L178.65,1642.16 L179.80,1643.47 L180.95,1644.72 L182.10,1645.92 L183.25,1647.07 L184.40,1648.19 L185.55,1649.29 L186.70,1650.37 L187.85,1651.46 L189.00,1652.55 L190.15,1653.67 L191.30,1654.81 L192.45,1655.94 L193.60,1657.08 L194.75,1658.21 L195.90,1659.34 L197.05,1660.47 L198.20,1661.59 L199.35,1662.72 L200.50,1663.84 L201.65,1664.96 L202.80,1666.08 L203.95,1667.20 L205.10,1668.32 L206.25,1669.44 L207.39,1670.55 L208.54,1671.66 L209.69,1672.78 L210.84,1673.89 L211.99,1675.01 L213.14,1676.12 L214.29,1677.23 L215.44,1678.34 L216.59,1679.45 L217.74,1680.56 L218.89,1681.66 L220.04,1682.76 L221.19,1683.85 L222.34,1684.94 L223.49,1686.02 L224.64,1687.10 L225.79,1688.17 L226.94,1689.23 L228.09,1690.27 L229.24,1691.30 L230.39,1692.32 L231.54,1693.34 L232.69,1694.35 L233.84,1695.36 L234.99,1696.37 L236.13,1697.39 L237.28,1698.41 L238.43,1699.44 L239.58,1700.48 L240.73,1701.54 L241.88,1702.62 L243.03,1703.71 L244.18,1704.83 L245.33,1705.98 L246.48,1707.16 L247.63,1708.36 L248.78,1709.58 L249.93,1710.80 L251.08,1712.02 L252.23,1713.24 L253.38,1714.44 L254.53,1715.63 L255.68,1716.79 L256.83,1717.93 L257.98,1719.03 L259.13,1720.13 L260.28,1721.21 L261.43,1722.27 L262.58,1723.33 L263.73,1724.38 L264.87,1725.42 L266.02,1726.45 L267.17,1727.48 L268.32,1728.50 L269.47,1729.52 L270.62,1730.54 L271.77,1731.56 L272.92,1732.58 L274.07,1733.58 L275.22,1734.55 L276.37,1735.50 L277.52,1736.43 L278.67,1737.34 L279.82,1738.26 L280.97,1739.18 L282.12,1740.11 L283.27,1741.06 L284.42,1742.04 L285.57,1743.04 L286.72,1744.09 L287.87,1745.18 L289.02,1746.33 L290.17,1747.54 L291.32,1748.83 L292.47,1750.21 L293.61,1751.65 L294.76,1753.16 L295.91,1754.73 L297.06,1756.34 L298.21,1757.99 L299.36,1759.66 L300.51,1761.36 L301.66,1763.06 L302.81,1764.77 L303.96,1766.47 L305.11,1768.15 L306.26,1769.81 L307.41,1771.47 L308.56,1773.14 L309.71,1774.84 L310.86,1776.59 L312.01,1778.40 L313.16,1780.29 L314.31,1782.28 L315.46,1784.38 L316.61,1786.63 L317.76,1789.16 L318.91,1791.93 L320.06,1794.88 L321.21,1797.93 L322.35,1801.03 L323.50,1804.11 L324.65,1807.10 L325.80,1809.93 L326.95,1812.57 L328.10,1815.24 L329.25,1817.98 L330.40,1820.71 L331.55,1823.32 L332.70,1825.72 L333.85,1827.83 L335.00,1829.54 L336.15,1830.78 L337.30,1831.81 L338.45,1832.77 L339.60,1833.65 L340.75,1834.46 L341.90,1835.20 L343.05,1835.87 L344.20,1836.47 L345.35,1837.01 L346.50,1837.50 L347.65,1837.92 L348.80,1838.29 L349.95,1838.62 L351.09,1838.94 L352.24,1839.24 L353.39,1839.49 L354.54,1839.68 L355.69,1839.79 L356.84,1839.80 L357.99,1839.80 L359.14,1839.80 L360.29,1839.80 L361.44,1839.80 L362.59,1839.80 L363.74,1839.80 L364.89,1839.80 L366.04,1839.80 L367.19,1839.80 L368.34,1839.80 L369.49,1839.80 L370.64,1839.80 L371.79,1839.80 L372.94,1839.80 L374.09,1839.80 L375.24,1839.80 L376.39,1839.80 L377.54,1839.80 L378.69,1839.80 L379.83,1839.80 L380.98,1839.80 L382.13,1839.80 L383.28,1839.80 L384.43,1839.80 L385.58,1839.80 L386.73,1839.80 L387.88,1839.80 L389.03,1839.80 L390.18,1839.80 L391.33,1839.80 L392.48,1839.80 L393.63,1839.80 L394.78,1839.80 L395.93,1839.80 L397.08,1839.80 L398.23,1839.80 L399.38,1839.80 L400.53,1839.80 L401.68,1839.80 L402.83,1839.80 L403.98,1839.80 L405.13,1839.80 L406.28,1839.80 L407.43,1839.80" fill="none" stroke="#8DBADD" stroke-width="4.6" stroke-linecap="round" stroke-linejoin="round"/>
<path d="M120.60,1839.80 L134.97,1563.89 L136.12,1566.71 L137.27,1569.50 L138.42,1572.25 L139.57,1574.96 L140.72,1577.63 L141.87,1580.26 L143.02,1582.85 L144.17,1585.40 L145.32,1587.90 L146.47,1590.35 L147.62,1592.76 L148.77,1595.11 L149.91,1597.42 L151.06,1599.68 L152.21,1601.90 L153.36,1604.08 L154.51,1606.23 L155.66,1608.34 L156.81,1610.41 L157.96,1612.45 L159.11,1614.46 L160.26,1616.43 L161.41,1618.37 L162.56,1620.28 L163.71,1622.16 L164.86,1624.00 L166.01,1625.81 L167.16,1627.59 L168.31,1629.35 L169.46,1631.08 L170.61,1632.78 L171.76,1634.46 L172.91,1636.09 L174.06,1637.69 L175.21,1639.24 L176.36,1640.74 L177.51,1642.19 L178.65,1643.59 L179.80,1644.92 L180.95,1646.20 L182.10,1647.44 L183.25,1648.63 L184.40,1649.80 L185.55,1650.94 L186.70,1652.07 L187.85,1653.20 L189.00,1654.32 L190.15,1655.45 L191.30,1656.59 L192.45,1657.72 L193.60,1658.84 L194.75,1659.95 L195.90,1661.06 L197.05,1662.15 L198.20,1663.25 L199.35,1664.33 L200.50,1665.42 L201.65,1666.51 L202.80,1667.59 L203.95,1668.68 L205.10,1669.78 L206.25,1670.88 L207.39,1671.98 L208.54,1673.09 L209.69,1674.22 L210.84,1675.34 L211.99,1676.48 L213.14,1677.61 L214.29,1678.75 L215.44,1679.90 L216.59,1681.04 L217.74,1682.17 L218.89,1683.31 L220.04,1684.44 L221.19,1685.56 L222.34,1686.68 L223.49,1687.78 L224.64,1688.88 L225.79,1689.96 L226.94,1691.03 L228.09,1692.08 L229.24,1693.12 L230.39,1694.15 L231.54,1695.17 L232.69,1696.18 L233.84,1697.20 L234.99,1698.21 L236.13,1699.22 L237.28,1700.24 L238.43,1701.27 L239.58,1702.31 L240.73,1703.36 L241.88,1704.42 L243.03,1705.50 L244.18,1706.61 L245.33,1707.74 L246.48,1708.90 L247.63,1710.08 L248.78,1711.26 L249.93,1712.46 L251.08,1713.65 L252.23,1714.83 L253.38,1716.00 L254.53,1717.15 L255.68,1718.27 L256.83,1719.36 L257.98,1720.41 L259.13,1721.44 L260.28,1722.45 L261.43,1723.44 L262.58,1724.40 L263.73,1725.36 L264.87,1726.30 L266.02,1727.23 L267.17,1728.16 L268.32,1729.08 L269.47,1730.00 L270.62,1730.92 L271.77,1731.84 L272.92,1732.77 L274.07,1733.71 L275.22,1734.66 L276.37,1735.63 L277.52,1736.61 L278.67,1737.61 L279.82,1738.64 L280.97,1739.69 L282.12,1740.76 L283.27,1741.87 L284.42,1743.02 L285.57,1744.21 L286.72,1745.44 L287.87,1746.71 L289.02,1748.00 L290.17,1749.33 L291.32,1750.67 L292.47,1752.04 L293.61,1753.43 L294.76,1754.82 L295.91,1756.22 L297.06,1757.63 L298.21,1759.04 L299.36,1760.44 L300.51,1761.84 L301.66,1763.22 L302.81,1764.59 L303.96,1765.94 L305.11,1767.26 L306.26,1768.56 L307.41,1769.83 L308.56,1771.06 L309.71,1772.25 L310.86,1773.41 L312.01,1774.56 L313.16,1775.68 L314.31,1776.79 L315.46,1777.89 L316.61,1778.97 L317.76,1780.04 L318.91,1781.10 L320.06,1782.14 L321.21,1783.18 L322.35,1784.22 L323.50,1785.24 L324.65,1786.26 L325.80,1787.28 L326.95,1788.29 L328.10,1789.31 L329.25,1790.32 L330.40,1791.33 L331.55,1792.35 L332.70,1793.37 L333.85,1794.39 L335.00,1795.42 L336.15,1796.46 L337.30,1797.50 L338.45,1798.54 L339.60,1799.58 L340.75,1800.63 L341.90,1801.67 L343.05,1802.72 L344.20,1803.76 L345.35,1804.81 L346.50,1805.85 L347.65,1806.89 L348.80,1807.93 L349.95,1808.96 L351.09,1809.99 L352.24,1811.02 L353.39,1812.04 L354.54,1813.06 L355.69,1814.08 L356.84,1815.09 L357.99,1816.09 L359.14,1817.08 L360.29,1818.07 L361.44,1819.05 L362.59,1820.03 L363.74,1821.02 L364.89,1822.01 L366.04,1823.02 L367.19,1824.02 L368.34,1825.01 L369.49,1825.99 L370.64,1826.94 L371.79,1827.85 L372.94,1828.73 L374.09,1829.55 L375.24,1830.32 L376.39,1831.04 L377.54,1831.74 L378.69,1832.41 L379.83,1833.07 L380.98,1833.70 L382.13,1834.30 L383.28,1834.88 L384.43,1835.44 L385.58,1835.97 L386.73,1836.48 L387.88,1836.96 L389.03,1837.41 L390.18,1837.89 L391.33,1838.39 L392.48,1838.87 L393.63,1839.28 L394.78,1839.60 L395.93,1839.78 L397.08,1839.80 L398.23,1839.80 L399.38,1839.80 L400.53,1839.80 L401.68,1839.80 L402.83,1839.80 L403.98,1839.80 L405.13,1839.80 L406.28,1839.80 L407.43,1839.80" fill="none" stroke="#4477AA" stroke-width="4.6" stroke-linecap="butt" stroke-linejoin="round" stroke-dasharray="17.02 7.36"/>
<text x="48.90" y="1847.20" font-size="20" fill="#1a1a1a">0.0</text>
<text x="49.10" y="1775.72" font-size="20" fill="#1a1a1a">0.2</text>
<text x="48.70" y="1704.24" font-size="20" fill="#1a1a1a">0.4</text>
<text x="49.00" y="1632.76" font-size="20" fill="#1a1a1a">0.6</text>
<text x="48.90" y="1561.28" font-size="20" fill="#1a1a1a">0.8</text>
<text x="106.70" y="1898.60" font-size="20" fill="#1a1a1a">0.0</text>
<text x="164.28" y="1898.60" font-size="20" fill="#1a1a1a">0.2</text>
<text x="221.56" y="1898.60" font-size="20" fill="#1a1a1a">0.4</text>
<text x="279.19" y="1898.60" font-size="20" fill="#1a1a1a">0.6</text>
<text x="336.62" y="1898.60" font-size="20" fill="#1a1a1a">0.8</text>
<text x="393.75" y="1898.60" font-size="20" fill="#1a1a1a">1.0</text>
<text x="121.56" y="1522.90" font-size="25" fill="#1a1a1a">Cumulative Rain</text>
<text x="0" y="0" font-size="25" fill="#1a1a1a" transform="translate(318.27,1522.90) scale(1.39,0.92)">≥</text>
<text x="349.91" y="1522.90" font-size="25" fill="#1a1a1a">5mm</text>
<text x="174.93" y="1934.80" font-size="25" fill="#1a1a1a">Cost/Loss Ratio</text>
<text x="0" y="0" font-size="25" fill="#1a1a1a" transform="translate(43.60,1730.85) rotate(-90)">Value</text>
<line x1="540.30" y1="1838.80" x2="852.50" y2="1838.80" stroke="#CCCCCC" stroke-width="2.0" stroke-linecap="butt"/>
<line x1="540.30" y1="1798.46" x2="852.50" y2="1798.46" stroke="#CCCCCC" stroke-width="2.0" stroke-linecap="butt"/>
<line x1="540.30" y1="1758.12" x2="852.50" y2="1758.12" stroke="#CCCCCC" stroke-width="2.0" stroke-linecap="butt"/>
<line x1="540.30" y1="1717.78" x2="852.50" y2="1717.78" stroke="#CCCCCC" stroke-width="2.0" stroke-linecap="butt"/>
<line x1="540.30" y1="1677.44" x2="852.50" y2="1677.44" stroke="#CCCCCC" stroke-width="2.0" stroke-linecap="butt"/>
<line x1="540.30" y1="1637.10" x2="852.50" y2="1637.10" stroke="#CCCCCC" stroke-width="2.0" stroke-linecap="butt"/>
<line x1="540.30" y1="1596.76" x2="852.50" y2="1596.76" stroke="#CCCCCC" stroke-width="2.0" stroke-linecap="butt"/>
<line x1="540.30" y1="1556.42" x2="852.50" y2="1556.42" stroke="#CCCCCC" stroke-width="2.0" stroke-linecap="butt"/>
<line x1="554.30" y1="1548.20" x2="554.30" y2="1853.00" stroke="#CCCCCC" stroke-width="2.0" stroke-linecap="butt"/>
<line x1="611.10" y1="1548.20" x2="611.10" y2="1853.00" stroke="#CCCCCC" stroke-width="2.0" stroke-linecap="butt"/>
<line x1="667.90" y1="1548.20" x2="667.90" y2="1853.00" stroke="#CCCCCC" stroke-width="2.0" stroke-linecap="butt"/>
<line x1="724.70" y1="1548.20" x2="724.70" y2="1853.00" stroke="#CCCCCC" stroke-width="2.0" stroke-linecap="butt"/>
<line x1="781.50" y1="1548.20" x2="781.50" y2="1853.00" stroke="#CCCCCC" stroke-width="2.0" stroke-linecap="butt"/>
<line x1="838.30" y1="1548.20" x2="838.30" y2="1853.00" stroke="#CCCCCC" stroke-width="2.0" stroke-linecap="butt"/>
<rect x="540.3" y="1548.2" width="312.2" height="304.8" fill="none" stroke="#CCCCCC" stroke-width="2.8"/>
<path d="M554.30,1838.80 L568.50,1670.99 L569.64,1676.32 L570.77,1681.57 L571.91,1686.72 L573.04,1691.97 L574.18,1697.32 L575.32,1702.43 L576.45,1706.96 L577.59,1710.67 L578.72,1713.95 L579.86,1716.90 L581.00,1719.60 L582.13,1722.08 L583.27,1724.39 L584.40,1726.50 L585.54,1728.42 L586.68,1730.23 L587.81,1732.00 L588.95,1733.79 L590.08,1735.68 L591.22,1737.61 L592.36,1739.57 L593.49,1741.51 L594.63,1743.38 L595.76,1745.17 L596.90,1746.82 L598.04,1748.33 L599.17,1749.78 L600.31,1751.27 L601.44,1752.88 L602.58,1754.57 L603.72,1756.30 L604.85,1758.06 L605.99,1759.83 L607.12,1761.59 L608.26,1763.31 L609.40,1764.98 L610.53,1766.62 L611.67,1768.28 L612.80,1769.94 L613.94,1771.60 L615.08,1773.24 L616.21,1774.85 L617.35,1776.42 L618.48,1777.94 L619.62,1779.41 L620.76,1780.80 L621.89,1782.11 L623.03,1783.33 L624.16,1784.52 L625.30,1785.69 L626.44,1786.82 L627.57,1787.93 L628.71,1789.02 L629.84,1790.08 L630.98,1791.11 L632.12,1792.12 L633.25,1793.11 L634.39,1794.07 L635.52,1795.01 L636.66,1795.92 L637.80,1796.81 L638.93,1797.68 L640.07,1798.53 L641.20,1799.35 L642.34,1800.15 L643.48,1800.93 L644.61,1801.69 L645.75,1802.42 L646.88,1803.14 L648.02,1803.84 L649.16,1804.52 L650.29,1805.19 L651.43,1805.84 L652.56,1806.47 L653.70,1807.09 L654.84,1807.70 L655.97,1808.30 L657.11,1808.88 L658.24,1809.45 L659.38,1810.02 L660.52,1810.57 L661.65,1811.12 L662.79,1811.66 L663.92,1812.20 L665.06,1812.73 L666.20,1813.25 L667.33,1813.78 L668.47,1814.29 L669.60,1814.80 L670.74,1815.31 L671.88,1815.80 L673.01,1816.29 L674.15,1816.78 L675.28,1817.25 L676.42,1817.72 L677.56,1818.19 L678.69,1818.64 L679.83,1819.09 L680.96,1819.54 L682.10,1819.98 L683.24,1820.41 L684.37,1820.83 L685.51,1821.25 L686.64,1821.66 L687.78,1822.06 L688.92,1822.46 L690.05,1822.85 L691.19,1823.25 L692.32,1823.63 L693.46,1824.02 L694.60,1824.40 L695.73,1824.78 L696.87,1825.16 L698.00,1825.53 L699.14,1825.90 L700.28,1826.26 L701.41,1826.62 L702.55,1826.97 L703.68,1827.32 L704.82,1827.66 L705.96,1828.00 L707.09,1828.34 L708.23,1828.66 L709.36,1828.99 L710.50,1829.30 L711.64,1829.61 L712.77,1829.92 L713.91,1830.22 L715.04,1830.51 L716.18,1830.79 L717.32,1831.07 L718.45,1831.34 L719.59,1831.59 L720.72,1831.84 L721.86,1832.08 L723.00,1832.32 L724.13,1832.54 L725.27,1832.76 L726.40,1832.98 L727.54,1833.19 L728.68,1833.40 L729.81,1833.61 L730.95,1833.83 L732.08,1834.04 L733.22,1834.25 L734.36,1834.47 L735.49,1834.69 L736.63,1834.91 L737.76,1835.15 L738.90,1835.39 L740.04,1835.64 L741.17,1835.89 L742.31,1836.15 L743.44,1836.41 L744.58,1836.68 L745.72,1836.95 L746.85,1837.23 L747.99,1837.51 L749.12,1837.79 L750.26,1838.08 L751.40,1838.36 L752.53,1838.65" fill="none" stroke="#BBBBBB" stroke-width="4.6" stroke-linecap="round" stroke-linejoin="round"/>
<path d="M554.30,1838.80 L568.50,1614.11 L569.64,1615.62 L570.77,1617.12 L571.91,1618.61 L573.04,1620.09 L574.18,1621.56 L575.32,1623.01 L576.45,1624.45 L577.59,1625.87 L578.72,1627.28 L579.86,1628.66 L581.00,1630.03 L582.13,1631.38 L583.27,1632.70 L584.40,1633.98 L585.54,1635.23 L586.68,1636.45 L587.81,1637.65 L588.95,1638.84 L590.08,1640.02 L591.22,1641.20 L592.36,1642.37 L593.49,1643.56 L594.63,1644.76 L595.76,1645.97 L596.90,1647.21 L598.04,1648.48 L599.17,1649.79 L600.31,1651.13 L601.44,1652.52 L602.58,1653.96 L603.72,1655.46 L604.85,1657.02 L605.99,1658.62 L607.12,1660.26 L608.26,1661.93 L609.40,1663.64 L610.53,1665.36 L611.67,1667.10 L612.80,1668.86 L613.94,1670.61 L615.08,1672.36 L616.21,1674.10 L617.35,1675.83 L618.48,1677.55 L619.62,1679.30 L620.76,1681.06 L621.89,1682.84 L623.03,1684.62 L624.16,1686.40 L625.30,1688.18 L626.44,1689.95 L627.57,1691.71 L628.71,1693.45 L629.84,1695.17 L630.98,1696.85 L632.12,1698.47 L633.25,1700.06 L634.39,1701.61 L635.52,1703.14 L636.66,1704.67 L637.80,1706.22 L638.93,1707.79 L640.07,1709.41 L641.20,1711.08 L642.34,1712.82 L643.48,1714.64 L644.61,1716.57 L645.75,1718.60 L646.88,1720.74 L648.02,1722.97 L649.16,1725.30 L650.29,1727.71 L651.43,1730.20 L652.56,1732.77 L653.70,1735.41 L654.84,1738.12 L655.97,1740.88 L657.11,1743.75 L658.24,1746.81 L659.38,1750.04 L660.52,1753.38 L661.65,1756.80 L662.79,1760.23 L663.92,1763.65 L665.06,1767.00 L666.20,1770.24 L667.33,1773.37 L668.47,1776.50 L669.60,1779.60 L670.74,1782.69 L671.88,1785.74 L673.01,1788.76 L674.15,1791.74 L675.28,1794.66 L676.42,1797.52 L677.56,1800.32 L678.69,1803.04 L679.83,1805.67 L680.96,1808.23 L682.10,1810.73 L683.24,1813.18 L684.37,1815.60 L685.51,1818.02 L686.64,1820.43 L687.78,1822.82 L688.92,1825.18 L690.05,1827.49 L691.19,1829.75 L692.32,1831.94 L693.46,1834.05 L694.60,1836.06 L695.73,1837.91" fill="none" stroke="#CCBB44" stroke-width="4.6" stroke-linecap="round" stroke-linejoin="round"/>
<path d="M554.30,1838.80 L568.50,1560.45 L569.64,1563.84 L570.77,1567.25 L571.91,1570.70 L573.04,1574.18 L574.18,1577.69 L575.32,1581.24 L576.45,1584.80 L577.59,1588.40 L578.72,1592.02 L579.86,1595.75 L581.00,1599.57 L582.13,1603.41 L583.27,1607.22 L584.40,1610.94 L585.54,1614.51 L586.68,1617.97 L587.81,1621.40 L588.95,1624.78 L590.08,1628.07 L591.22,1631.26 L592.36,1634.31 L593.49,1637.21 L594.63,1639.89 L595.76,1642.30 L596.90,1644.62 L598.04,1647.00 L599.17,1649.61 L600.31,1652.50 L601.44,1655.61 L602.58,1658.90 L603.72,1662.31 L604.85,1665.79 L605.99,1669.31 L607.12,1672.82 L608.26,1676.26 L609.40,1679.60 L610.53,1682.78 L611.67,1685.78 L612.80,1688.71 L613.94,1691.59 L615.08,1694.40 L616.21,1697.16 L617.35,1699.87 L618.48,1702.52 L619.62,1705.12 L620.76,1707.66 L621.89,1710.12 L623.03,1712.40 L624.16,1714.56 L625.30,1716.69 L626.44,1718.89 L627.57,1721.24 L628.71,1723.83 L629.84,1726.71 L630.98,1729.82 L632.12,1733.15 L633.25,1736.65 L634.39,1740.31 L635.52,1744.09 L636.66,1748.00 L637.80,1752.23 L638.93,1756.69 L640.07,1761.27 L641.20,1765.86 L642.34,1770.49 L643.48,1775.38 L644.61,1780.46 L645.75,1785.59 L646.88,1790.67 L648.02,1795.58 L649.16,1800.20 L650.29,1804.42 L651.43,1808.12 L652.56,1811.26 L653.70,1814.04 L654.84,1816.55 L655.97,1818.87 L657.11,1821.18 L658.24,1823.64 L659.38,1826.18 L660.52,1828.71 L661.65,1831.13 L662.79,1833.37 L663.92,1835.34 L665.06,1836.94 L666.20,1838.10 L667.33,1838.72 L668.47,1838.80 L669.60,1838.80 L670.74,1838.80 L671.88,1838.80 L673.01,1838.80 L674.15,1838.80 L675.28,1838.80 L676.42,1838.80 L677.56,1838.80 L678.69,1838.80 L679.83,1838.80 L680.96,1838.80 L682.10,1838.80 L683.24,1838.80 L684.37,1838.80 L685.51,1838.80 L686.64,1838.80 L687.78,1838.80 L688.92,1838.80 L690.05,1838.80 L691.19,1838.80 L692.32,1838.80 L693.46,1838.80 L694.60,1838.80 L695.73,1838.80 L696.87,1838.80 L698.00,1838.80 L699.14,1838.80 L700.28,1838.80 L701.41,1838.80 L702.55,1838.80 L703.68,1838.80 L704.82,1838.80 L705.96,1838.80 L707.09,1838.80 L708.23,1838.80 L709.36,1838.80 L710.50,1838.80 L711.64,1838.80 L712.77,1838.80 L713.91,1838.80 L715.04,1838.80 L716.18,1838.80 L717.32,1838.80 L718.45,1838.80 L719.59,1838.80 L720.72,1838.80 L721.86,1838.80 L723.00,1838.80 L724.13,1838.80 L725.27,1838.80 L726.40,1838.80 L727.54,1838.80 L728.68,1838.80 L729.81,1838.80 L730.95,1838.80 L732.08,1838.80 L733.22,1838.80 L734.36,1838.80 L735.49,1838.80 L736.63,1838.80 L737.76,1838.80 L738.90,1838.80 L740.04,1838.80 L741.17,1838.80 L742.31,1838.80 L743.44,1838.80 L744.58,1838.80 L745.72,1838.80 L746.85,1838.80 L747.99,1838.80 L749.12,1838.80 L750.26,1838.80 L751.40,1838.80 L752.53,1838.80" fill="none" stroke="#AA3377" stroke-width="4.6" stroke-linecap="round" stroke-linejoin="round"/>
<path d="M554.30,1838.80 L568.50,1578.20 L569.64,1583.17 L570.77,1587.96 L571.91,1592.55 L573.04,1596.88 L574.18,1600.92 L575.32,1604.63 L576.45,1608.07 L577.59,1611.32 L578.72,1614.41 L579.86,1617.38 L581.00,1620.28 L582.13,1623.14 L583.27,1626.03 L584.40,1628.97 L585.54,1631.97 L586.68,1634.99 L587.81,1638.01 L588.95,1640.99 L590.08,1643.89 L591.22,1646.69 L592.36,1649.35 L593.49,1651.84 L594.63,1654.14 L595.76,1656.29 L596.90,1658.32 L598.04,1660.26 L599.17,1662.14 L600.31,1663.98 L601.44,1665.81 L602.58,1667.67 L603.72,1669.58 L604.85,1671.57 L605.99,1673.67 L607.12,1675.89 L608.26,1678.22 L609.40,1680.58 L610.53,1682.95 L611.67,1685.28 L612.80,1687.52 L613.94,1689.63 L615.08,1691.56 L616.21,1693.36 L617.35,1695.10 L618.48,1696.78 L619.62,1698.41 L620.76,1700.00 L621.89,1701.54 L623.03,1703.04 L624.16,1704.51 L625.30,1705.94 L626.44,1707.35 L627.57,1708.73 L628.71,1710.08 L629.84,1711.43 L630.98,1712.76 L632.12,1714.07 L633.25,1715.36 L634.39,1716.61 L635.52,1717.83 L636.66,1719.02 L637.80,1720.18 L638.93,1721.34 L640.07,1722.48 L641.20,1723.62 L642.34,1724.76 L643.48,1725.90 L644.61,1727.06 L645.75,1728.22 L646.88,1729.39 L648.02,1730.55 L649.16,1731.72 L650.29,1732.88 L651.43,1734.04 L652.56,1735.21 L653.70,1736.37 L654.84,1737.53 L655.97,1738.68 L657.11,1739.84 L658.24,1740.99 L659.38,1742.14 L660.52,1743.28 L661.65,1744.43 L662.79,1745.56 L663.92,1746.70 L665.06,1747.82 L666.20,1748.95 L667.33,1750.07 L668.47,1751.18 L669.60,1752.28 L670.74,1753.38 L671.88,1754.48 L673.01,1755.56 L674.15,1756.64 L675.28,1757.71 L676.42,1758.76 L677.56,1759.81 L678.69,1760.84 L679.83,1761.87 L680.96,1762.88 L682.10,1763.90 L683.24,1764.90 L684.37,1765.91 L685.51,1766.90 L686.64,1767.90 L687.78,1768.90 L688.92,1769.89 L690.05,1770.89 L691.19,1771.89 L692.32,1772.89 L693.46,1773.89 L694.60,1774.90 L695.73,1775.91 L696.87,1776.94 L698.00,1777.97 L699.14,1779.01 L700.28,1780.05 L701.41,1781.11 L702.55,1782.19 L703.68,1783.27 L704.82,1784.33 L705.96,1785.37 L707.09,1786.40 L708.23,1787.44 L709.36,1788.48 L710.50,1789.55 L711.64,1790.64 L712.77,1791.78 L713.91,1792.96 L715.04,1794.20 L716.18,1795.51 L717.32,1796.89 L718.45,1798.40 L719.59,1800.09 L720.72,1801.94 L721.86,1803.89 L723.00,1805.89 L724.13,1807.90 L725.27,1809.88 L726.40,1811.77 L727.54,1813.67 L728.68,1815.65 L729.81,1817.68 L730.95,1819.70 L732.08,1821.65 L733.22,1823.50 L734.36,1825.20 L735.49,1826.68 L736.63,1827.91 L737.76,1828.97 L738.90,1829.98 L740.04,1830.94 L741.17,1831.84 L742.31,1832.69 L743.44,1833.48 L744.58,1834.21 L745.72,1834.88 L746.85,1835.48 L747.99,1836.02 L749.12,1836.48 L750.26,1836.88 L751.40,1837.25 L752.53,1837.62 L753.67,1837.96 L754.80,1838.26 L755.94,1838.51 L757.08,1838.69 L758.21,1838.79 L759.35,1838.80 L760.48,1838.80 L761.62,1838.80 L762.76,1838.80 L763.89,1838.80 L765.03,1838.80 L766.16,1838.80 L767.30,1838.80 L768.44,1838.80 L769.57,1838.80 L770.71,1838.80 L771.84,1838.80 L772.98,1838.80 L774.12,1838.80 L775.25,1838.80 L776.39,1838.80 L777.52,1838.80 L778.66,1838.80 L779.80,1838.80 L780.93,1838.80 L782.07,1838.80 L783.20,1838.80 L784.34,1838.80 L785.48,1838.80 L786.61,1838.80 L787.75,1838.80 L788.88,1838.80 L790.02,1838.80 L791.16,1838.80 L792.29,1838.80 L793.43,1838.80 L794.56,1838.80 L795.70,1838.80 L796.84,1838.80 L797.97,1838.80 L799.11,1838.80 L800.24,1838.80 L801.38,1838.80 L802.52,1838.80 L803.65,1838.80 L804.79,1838.80 L805.92,1838.80 L807.06,1838.80 L808.20,1838.80 L809.33,1838.80 L810.47,1838.80 L811.60,1838.80 L812.74,1838.80 L813.88,1838.80 L815.01,1838.80 L816.15,1838.80 L817.28,1838.80 L818.42,1838.80 L819.56,1838.80 L820.69,1838.80 L821.83,1838.80 L822.96,1838.80 L824.10,1838.80 L825.24,1838.80 L826.37,1838.80 L827.51,1838.80 L828.64,1838.80 L829.78,1838.80 L830.92,1838.80 L832.05,1838.80 L833.19,1838.80 L834.32,1838.80 L835.46,1838.80 L836.60,1838.80 L837.73,1838.80" fill="none" stroke="#8DBADD" stroke-width="4.6" stroke-linecap="round" stroke-linejoin="round"/>
<path d="M554.30,1838.80 L568.50,1578.20 L569.64,1583.26 L570.77,1588.12 L571.91,1592.74 L573.04,1597.05 L574.18,1600.99 L575.32,1604.53 L576.45,1607.76 L577.59,1610.75 L578.72,1613.55 L579.86,1616.23 L581.00,1618.85 L582.13,1621.47 L583.27,1624.13 L584.40,1626.92 L585.54,1629.82 L586.68,1632.79 L587.81,1635.78 L588.95,1638.75 L590.08,1641.65 L591.22,1644.43 L592.36,1647.04 L593.49,1649.45 L594.63,1651.62 L595.76,1653.64 L596.90,1655.53 L598.04,1657.33 L599.17,1659.05 L600.31,1660.74 L601.44,1662.41 L602.58,1664.10 L603.72,1665.83 L604.85,1667.63 L605.99,1669.53 L607.12,1671.54 L608.26,1673.61 L609.40,1675.72 L610.53,1677.83 L611.67,1679.90 L612.80,1681.89 L613.94,1683.77 L615.08,1685.51 L616.21,1687.12 L617.35,1688.68 L618.48,1690.18 L619.62,1691.63 L620.76,1693.03 L621.89,1694.40 L623.03,1695.73 L624.16,1697.04 L625.30,1698.33 L626.44,1699.61 L627.57,1700.88 L628.71,1702.15 L629.84,1703.42 L630.98,1704.70 L632.12,1706.00 L633.25,1707.29 L634.39,1708.55 L635.52,1709.79 L636.66,1711.03 L637.80,1712.25 L638.93,1713.48 L640.07,1714.71 L641.20,1715.95 L642.34,1717.21 L643.48,1718.49 L644.61,1719.80 L645.75,1721.15 L646.88,1722.54 L648.02,1723.97 L649.16,1725.41 L650.29,1726.85 L651.43,1728.29 L652.56,1729.72 L653.70,1731.11 L654.84,1732.46 L655.97,1733.75 L657.11,1735.03 L658.24,1736.28 L659.38,1737.52 L660.52,1738.74 L661.65,1739.94 L662.79,1741.13 L663.92,1742.31 L665.06,1743.48 L666.20,1744.65 L667.33,1745.80 L668.47,1746.95 L669.60,1748.09 L670.74,1749.23 L671.88,1750.36 L673.01,1751.50 L674.15,1752.64 L675.28,1753.78 L676.42,1754.92 L677.56,1756.07 L678.69,1757.21 L679.83,1758.36 L680.96,1759.50 L682.10,1760.64 L683.24,1761.78 L684.37,1762.92 L685.51,1764.05 L686.64,1765.18 L687.78,1766.29 L688.92,1767.41 L690.05,1768.51 L691.19,1769.60 L692.32,1770.69 L693.46,1771.76 L694.60,1772.82 L695.73,1773.87 L696.87,1774.90 L698.00,1775.92 L699.14,1776.93 L700.28,1777.91 L701.41,1778.89 L702.55,1779.84 L703.68,1780.77 L704.82,1781.69 L705.96,1782.60 L707.09,1783.50 L708.23,1784.39 L709.36,1785.26 L710.50,1786.13 L711.64,1786.98 L712.77,1787.83 L713.91,1788.66 L715.04,1789.48 L716.18,1790.30 L717.32,1791.10 L718.45,1791.89 L719.59,1792.68 L720.72,1793.46 L721.86,1794.22 L723.00,1794.98 L724.13,1795.73 L725.27,1796.48 L726.40,1797.21 L727.54,1797.93 L728.68,1798.65 L729.81,1799.34 L730.95,1800.03 L732.08,1800.71 L733.22,1801.38 L734.36,1802.05 L735.49,1802.71 L736.63,1803.36 L737.76,1804.00 L738.90,1804.65 L740.04,1805.29 L741.17,1805.92 L742.31,1806.56 L743.44,1807.19 L744.58,1807.83 L745.72,1808.47 L746.85,1809.11 L747.99,1809.75 L749.12,1810.40 L750.26,1811.05 L751.40,1811.70 L752.53,1812.35 L753.67,1812.99 L754.80,1813.64 L755.94,1814.28 L757.08,1814.92 L758.21,1815.56 L759.35,1816.20 L760.48,1816.84 L761.62,1817.48 L762.76,1818.12 L763.89,1818.76 L765.03,1819.40 L766.16,1820.04 L767.30,1820.68 L768.44,1821.32 L769.57,1821.95 L770.71,1822.59 L771.84,1823.23 L772.98,1823.87 L774.12,1824.52 L775.25,1825.19 L776.39,1825.87 L777.52,1826.56 L778.66,1827.25 L779.80,1827.95 L780.93,1828.64 L782.07,1829.32 L783.20,1830.00 L784.34,1830.66 L785.48,1831.30 L786.61,1831.91 L787.75,1832.50 L788.88,1833.06 L790.02,1833.59 L791.16,1834.08 L792.29,1834.55 L793.43,1835.02 L794.56,1835.47 L795.70,1835.91 L796.84,1836.32 L797.97,1836.70 L799.11,1837.04 L800.24,1837.34 L801.38,1837.59 L802.52,1837.82 L803.65,1838.04 L804.79,1838.26 L805.92,1838.45 L807.06,1838.61 L808.20,1838.73 L809.33,1838.79 L810.47,1838.80 L811.60,1838.80 L812.74,1838.80 L813.88,1838.80 L815.01,1838.80 L816.15,1838.80 L817.28,1838.80 L818.42,1838.80 L819.56,1838.80 L820.69,1838.80 L821.83,1838.80 L822.96,1838.80 L824.10,1838.80 L825.24,1838.80 L826.37,1838.80 L827.51,1838.80 L828.64,1838.80 L829.78,1838.80 L830.92,1838.80 L832.05,1838.80 L833.19,1838.80 L834.32,1838.80 L835.46,1838.80 L836.60,1838.80 L837.73,1838.80" fill="none" stroke="#4477AA" stroke-width="4.6" stroke-linecap="butt" stroke-linejoin="round" stroke-dasharray="17.02 7.36"/>
<text x="482.90" y="1846.20" font-size="20" fill="#1a1a1a">0.0</text>
<text x="483.10" y="1805.86" font-size="20" fill="#1a1a1a">0.1</text>
<text x="483.10" y="1765.52" font-size="20" fill="#1a1a1a">0.2</text>
<text x="483.00" y="1725.18" font-size="20" fill="#1a1a1a">0.3</text>
<text x="482.70" y="1684.84" font-size="20" fill="#1a1a1a">0.4</text>
<text x="482.90" y="1644.50" font-size="20" fill="#1a1a1a">0.5</text>
<text x="483.00" y="1604.16" font-size="20" fill="#1a1a1a">0.6</text>
<text x="483.10" y="1563.82" font-size="20" fill="#1a1a1a">0.7</text>
<text x="540.40" y="1897.70" font-size="20" fill="#1a1a1a">0.0</text>
<text x="597.30" y="1897.70" font-size="20" fill="#1a1a1a">0.2</text>
<text x="653.90" y="1897.70" font-size="20" fill="#1a1a1a">0.4</text>
<text x="710.85" y="1897.70" font-size="20" fill="#1a1a1a">0.6</text>
<text x="767.60" y="1897.70" font-size="20" fill="#1a1a1a">0.8</text>
<text x="824.05" y="1897.70" font-size="20" fill="#1a1a1a">1.0</text>
<text x="547.16" y="1524.60" font-size="25" fill="#1a1a1a">Cumulative Rain</text>
<text x="0" y="0" font-size="25" fill="#1a1a1a" transform="translate(743.87,1524.60) scale(1.39,0.92)">≥</text>
<text x="774.64" y="1524.60" font-size="25" fill="#1a1a1a">10mm</text>
<text x="607.02" y="1934.20" font-size="25" fill="#1a1a1a">Cost/Loss Ratio</text>
<line x1="970.20" y1="1838.80" x2="1282.50" y2="1838.80" stroke="#CCCCCC" stroke-width="2.0" stroke-linecap="butt"/>
<line x1="970.20" y1="1793.77" x2="1282.50" y2="1793.77" stroke="#CCCCCC" stroke-width="2.0" stroke-linecap="butt"/>
<line x1="970.20" y1="1748.74" x2="1282.50" y2="1748.74" stroke="#CCCCCC" stroke-width="2.0" stroke-linecap="butt"/>
<line x1="970.20" y1="1703.71" x2="1282.50" y2="1703.71" stroke="#CCCCCC" stroke-width="2.0" stroke-linecap="butt"/>
<line x1="970.20" y1="1658.68" x2="1282.50" y2="1658.68" stroke="#CCCCCC" stroke-width="2.0" stroke-linecap="butt"/>
<line x1="970.20" y1="1613.65" x2="1282.50" y2="1613.65" stroke="#CCCCCC" stroke-width="2.0" stroke-linecap="butt"/>
<line x1="970.20" y1="1568.62" x2="1282.50" y2="1568.62" stroke="#CCCCCC" stroke-width="2.0" stroke-linecap="butt"/>
<line x1="984.40" y1="1548.20" x2="984.40" y2="1853.00" stroke="#CCCCCC" stroke-width="2.0" stroke-linecap="butt"/>
<line x1="1041.18" y1="1548.20" x2="1041.18" y2="1853.00" stroke="#CCCCCC" stroke-width="2.0" stroke-linecap="butt"/>
<line x1="1097.96" y1="1548.20" x2="1097.96" y2="1853.00" stroke="#CCCCCC" stroke-width="2.0" stroke-linecap="butt"/>
<line x1="1154.74" y1="1548.20" x2="1154.74" y2="1853.00" stroke="#CCCCCC" stroke-width="2.0" stroke-linecap="butt"/>
<line x1="1211.52" y1="1548.20" x2="1211.52" y2="1853.00" stroke="#CCCCCC" stroke-width="2.0" stroke-linecap="butt"/>
<line x1="1268.30" y1="1548.20" x2="1268.30" y2="1853.00" stroke="#CCCCCC" stroke-width="2.0" stroke-linecap="butt"/>
<rect x="970.2" y="1548.2" width="312.3" height="304.8" fill="none" stroke="#CCCCCC" stroke-width="2.8"/>
<path d="M984.40,1838.80 L998.60,1697.86 L999.73,1704.91 L1000.87,1711.56 L1002.00,1717.75 L1003.14,1723.41 L1004.27,1728.48 L1005.41,1733.06 L1006.54,1737.32 L1007.68,1741.23 L1008.82,1744.80 L1009.95,1748.00 L1011.09,1750.87 L1012.22,1753.51 L1013.36,1755.97 L1014.49,1758.27 L1015.63,1760.43 L1016.76,1762.47 L1017.90,1764.44 L1019.04,1766.34 L1020.17,1768.16 L1021.31,1769.89 L1022.44,1771.55 L1023.58,1773.14 L1024.71,1774.68 L1025.85,1776.18 L1026.98,1777.65 L1028.12,1779.09 L1029.26,1780.53 L1030.39,1781.96 L1031.53,1783.36 L1032.66,1784.75 L1033.80,1786.11 L1034.93,1787.43 L1036.07,1788.72 L1037.21,1789.96 L1038.34,1791.16 L1039.48,1792.31 L1040.61,1793.40 L1041.75,1794.42 L1042.88,1795.40 L1044.02,1796.34 L1045.15,1797.24 L1046.29,1798.13 L1047.43,1798.98 L1048.56,1799.81 L1049.70,1800.62 L1050.83,1801.41 L1051.97,1802.17 L1053.10,1802.92 L1054.24,1803.66 L1055.38,1804.38 L1056.51,1805.09 L1057.65,1805.79 L1058.78,1806.48 L1059.92,1807.16 L1061.05,1807.84 L1062.19,1808.52 L1063.32,1809.19 L1064.46,1809.87 L1065.60,1810.54 L1066.73,1811.20 L1067.87,1811.86 L1069.00,1812.51 L1070.14,1813.15 L1071.27,1813.79 L1072.41,1814.41 L1073.54,1815.03 L1074.68,1815.64 L1075.82,1816.25 L1076.95,1816.84 L1078.09,1817.43 L1079.22,1818.00 L1080.36,1818.57 L1081.49,1819.12 L1082.63,1819.67 L1083.77,1820.20 L1084.90,1820.73 L1086.04,1821.24 L1087.17,1821.74 L1088.31,1822.25 L1089.44,1822.75 L1090.58,1823.25 L1091.71,1823.75 L1092.85,1824.24 L1093.99,1824.72 L1095.12,1825.20 L1096.26,1825.66 L1097.39,1826.12 L1098.53,1826.57 L1099.66,1827.00 L1100.80,1827.43 L1101.93,1827.84 L1103.07,1828.23 L1104.21,1828.61 L1105.34,1828.97 L1106.48,1829.31 L1107.61,1829.64 L1108.75,1829.95 L1109.88,1830.24 L1111.02,1830.52 L1112.15,1830.79 L1113.29,1831.06 L1114.43,1831.31 L1115.56,1831.56 L1116.70,1831.80 L1117.83,1832.03 L1118.97,1832.25 L1120.10,1832.48 L1121.24,1832.69 L1122.38,1832.91 L1123.51,1833.12 L1124.65,1833.32 L1125.78,1833.53 L1126.92,1833.73 L1128.05,1833.94 L1129.19,1834.14 L1130.32,1834.35 L1131.46,1834.55 L1132.60,1834.74 L1133.73,1834.92 L1134.87,1835.10 L1136.00,1835.27 L1137.14,1835.44 L1138.27,1835.61 L1139.41,1835.77 L1140.55,1835.94 L1141.68,1836.11 L1142.82,1836.29 L1143.95,1836.47 L1145.09,1836.66 L1146.22,1836.85 L1147.36,1837.06 L1148.49,1837.28 L1149.63,1837.51 L1150.77,1837.76 L1151.90,1838.05 L1153.04,1838.34 L1154.17,1838.65" fill="none" stroke="#BBBBBB" stroke-width="4.6" stroke-linecap="round" stroke-linejoin="round"/>
<path d="M984.40,1838.80 L998.60,1615.90 L999.73,1618.03 L1000.87,1620.12 L1002.00,1622.16 L1003.14,1624.14 L1004.27,1626.04 L1005.41,1627.84 L1006.54,1629.52 L1007.68,1631.07 L1008.82,1632.52 L1009.95,1633.88 L1011.09,1635.16 L1012.22,1636.39 L1013.36,1637.56 L1014.49,1638.69 L1015.63,1639.80 L1016.76,1640.89 L1017.90,1641.99 L1019.04,1643.09 L1020.17,1644.22 L1021.31,1645.38 L1022.44,1646.60 L1023.58,1647.87 L1024.71,1649.22 L1025.85,1650.65 L1026.98,1652.19 L1028.12,1653.83 L1029.26,1655.56 L1030.39,1657.38 L1031.53,1659.25 L1032.66,1661.17 L1033.80,1663.12 L1034.93,1665.08 L1036.07,1667.04 L1037.21,1668.98 L1038.34,1670.89 L1039.48,1672.79 L1040.61,1674.70 L1041.75,1676.62 L1042.88,1678.56 L1044.02,1680.54 L1045.15,1682.56 L1046.29,1684.64 L1047.43,1686.78 L1048.56,1689.00 L1049.70,1691.28 L1050.83,1693.62 L1051.97,1696.00 L1053.10,1698.41 L1054.24,1700.84 L1055.38,1703.27 L1056.51,1705.70 L1057.65,1708.10 L1058.78,1710.46 L1059.92,1712.79 L1061.05,1715.07 L1062.19,1717.33 L1063.32,1719.58 L1064.46,1721.82 L1065.60,1724.09 L1066.73,1726.38 L1067.87,1728.72 L1069.00,1731.12 L1070.14,1733.58 L1071.27,1736.13 L1072.41,1738.79 L1073.54,1741.55 L1074.68,1744.40 L1075.82,1747.32 L1076.95,1750.29 L1078.09,1753.28 L1079.22,1756.29 L1080.36,1759.28 L1081.49,1762.25 L1082.63,1765.22 L1083.77,1768.24 L1084.90,1771.29 L1086.04,1774.34 L1087.17,1777.37 L1088.31,1780.36 L1089.44,1783.28 L1090.58,1786.11 L1091.71,1788.86 L1092.85,1791.52 L1093.99,1794.13 L1095.12,1796.71 L1096.26,1799.26 L1097.39,1801.83 L1098.53,1804.41 L1099.66,1807.04 L1100.80,1809.63 L1101.93,1812.18 L1103.07,1814.72 L1104.21,1817.30 L1105.34,1819.94 L1106.48,1822.69 L1107.61,1825.58 L1108.75,1828.70 L1109.88,1832.20 L1111.02,1835.65 L1112.15,1838.80" fill="none" stroke="#CCBB44" stroke-width="4.6" stroke-linecap="round" stroke-linejoin="round"/>
<path d="M984.40,1838.80 L998.60,1560.96 L999.73,1565.04 L1000.87,1569.15 L1002.00,1573.29 L1003.14,1577.45 L1004.27,1581.64 L1005.41,1585.86 L1006.54,1590.13 L1007.68,1594.57 L1008.82,1599.12 L1009.95,1603.68 L1011.09,1608.18 L1012.22,1612.53 L1013.36,1616.63 L1014.49,1620.42 L1015.63,1623.91 L1016.76,1627.20 L1017.90,1630.33 L1019.04,1633.37 L1020.17,1636.36 L1021.31,1639.38 L1022.44,1642.47 L1023.58,1645.69 L1024.71,1649.05 L1025.85,1652.47 L1026.98,1655.94 L1028.12,1659.46 L1029.26,1663.03 L1030.39,1666.66 L1031.53,1670.33 L1032.66,1674.07 L1033.80,1677.94 L1034.93,1681.91 L1036.07,1685.94 L1037.21,1689.99 L1038.34,1694.02 L1039.48,1697.98 L1040.61,1701.84 L1041.75,1705.55 L1042.88,1709.17 L1044.02,1712.72 L1045.15,1716.21 L1046.29,1719.66 L1047.43,1723.08 L1048.56,1726.48 L1049.70,1729.88 L1050.83,1733.29 L1051.97,1736.74 L1053.10,1740.22 L1054.24,1743.76 L1055.38,1747.29 L1056.51,1750.83 L1057.65,1754.37 L1058.78,1757.94 L1059.92,1761.53 L1061.05,1765.15 L1062.19,1768.81 L1063.32,1772.53 L1064.46,1776.31 L1065.60,1780.20 L1066.73,1784.16 L1067.87,1788.18 L1069.00,1792.21 L1070.14,1796.23 L1071.27,1800.19 L1072.41,1804.07 L1073.54,1808.06 L1074.68,1812.57 L1075.82,1817.37 L1076.95,1822.22 L1078.09,1826.87 L1079.22,1831.08 L1080.36,1834.61 L1081.49,1837.20 L1082.63,1838.61 L1083.77,1838.80 L1084.90,1838.80 L1086.04,1838.80 L1087.17,1838.80 L1088.31,1838.80 L1089.44,1838.80 L1090.58,1838.80 L1091.71,1838.80 L1092.85,1838.80 L1093.99,1838.80 L1095.12,1838.80 L1096.26,1838.80 L1097.39,1838.80 L1098.53,1838.80 L1099.66,1838.80 L1100.80,1838.80 L1101.93,1838.80 L1103.07,1838.80 L1104.21,1838.80 L1105.34,1838.80 L1106.48,1838.80 L1107.61,1838.80 L1108.75,1838.80 L1109.88,1838.80 L1111.02,1838.80 L1112.15,1838.80 L1113.29,1838.80 L1114.43,1838.80 L1115.56,1838.80 L1116.70,1838.80 L1117.83,1838.80 L1118.97,1838.80 L1120.10,1838.80 L1121.24,1838.80 L1122.38,1838.80 L1123.51,1838.80 L1124.65,1838.80 L1125.78,1838.80 L1126.92,1838.80 L1128.05,1838.80 L1129.19,1838.80 L1130.32,1838.80 L1131.46,1838.80 L1132.60,1838.80 L1133.73,1838.80 L1134.87,1838.80 L1136.00,1838.80 L1137.14,1838.80 L1138.27,1838.80 L1139.41,1838.80 L1140.55,1838.80 L1141.68,1838.80 L1142.82,1838.80 L1143.95,1838.80 L1145.09,1838.80 L1146.22,1838.80 L1147.36,1838.80 L1148.49,1838.80 L1149.63,1838.80 L1150.77,1838.80 L1151.90,1838.80 L1153.04,1838.80 L1154.17,1838.80" fill="none" stroke="#AA3377" stroke-width="4.6" stroke-linecap="round" stroke-linejoin="round"/>
<path d="M984.40,1838.80 L998.60,1584.38 L999.73,1591.99 L1000.87,1598.96 L1002.00,1604.66 L1003.14,1609.81 L1004.27,1614.60 L1005.41,1619.06 L1006.54,1623.25 L1007.68,1627.18 L1008.82,1630.92 L1009.95,1634.48 L1011.09,1637.91 L1012.22,1641.17 L1013.36,1644.26 L1014.49,1647.20 L1015.63,1650.02 L1016.76,1652.73 L1017.90,1655.36 L1019.04,1657.94 L1020.17,1660.48 L1021.31,1662.98 L1022.44,1665.42 L1023.58,1667.80 L1024.71,1670.12 L1025.85,1672.38 L1026.98,1674.59 L1028.12,1676.76 L1029.26,1678.87 L1030.39,1680.94 L1031.53,1682.94 L1032.66,1684.89 L1033.80,1686.80 L1034.93,1688.68 L1036.07,1690.53 L1037.21,1692.38 L1038.34,1694.22 L1039.48,1696.07 L1040.61,1697.92 L1041.75,1699.77 L1042.88,1701.61 L1044.02,1703.43 L1045.15,1705.24 L1046.29,1707.01 L1047.43,1708.76 L1048.56,1710.46 L1049.70,1712.14 L1050.83,1713.81 L1051.97,1715.46 L1053.10,1717.10 L1054.24,1718.72 L1055.38,1720.32 L1056.51,1721.90 L1057.65,1723.46 L1058.78,1725.00 L1059.92,1726.52 L1061.05,1728.01 L1062.19,1729.48 L1063.32,1730.92 L1064.46,1732.33 L1065.60,1733.72 L1066.73,1735.08 L1067.87,1736.42 L1069.00,1737.74 L1070.14,1739.04 L1071.27,1740.33 L1072.41,1741.60 L1073.54,1742.86 L1074.68,1744.11 L1075.82,1745.34 L1076.95,1746.58 L1078.09,1747.80 L1079.22,1749.02 L1080.36,1750.25 L1081.49,1751.47 L1082.63,1752.69 L1083.77,1753.92 L1084.90,1755.15 L1086.04,1756.40 L1087.17,1757.64 L1088.31,1758.89 L1089.44,1760.14 L1090.58,1761.38 L1091.71,1762.63 L1092.85,1763.87 L1093.99,1765.11 L1095.12,1766.35 L1096.26,1767.59 L1097.39,1768.82 L1098.53,1770.05 L1099.66,1771.27 L1100.80,1772.49 L1101.93,1773.70 L1103.07,1774.91 L1104.21,1776.11 L1105.34,1777.31 L1106.48,1778.50 L1107.61,1779.67 L1108.75,1780.84 L1109.88,1781.98 L1111.02,1783.10 L1112.15,1784.19 L1113.29,1785.26 L1114.43,1786.32 L1115.56,1787.37 L1116.70,1788.41 L1117.83,1789.46 L1118.97,1790.51 L1120.10,1791.56 L1121.24,1792.64 L1122.38,1793.72 L1123.51,1794.84 L1124.65,1795.97 L1125.78,1797.14 L1126.92,1798.35 L1128.05,1799.59 L1129.19,1800.88 L1130.32,1802.21 L1131.46,1803.61 L1132.60,1805.06 L1133.73,1806.58 L1134.87,1808.14 L1136.00,1809.76 L1137.14,1811.43 L1138.27,1813.15 L1139.41,1814.92 L1140.55,1816.74 L1141.68,1818.82 L1142.82,1821.31 L1143.95,1824.05 L1145.09,1826.92 L1146.22,1829.77 L1147.36,1832.46 L1148.49,1834.84 L1149.63,1836.78 L1150.77,1838.14 L1151.90,1838.77 L1153.04,1838.80 L1154.17,1838.80 L1155.31,1838.80 L1156.44,1838.80 L1157.58,1838.80 L1158.71,1838.80 L1159.85,1838.80 L1160.99,1838.80 L1162.12,1838.80 L1163.26,1838.80 L1164.39,1838.80 L1165.53,1838.80 L1166.66,1838.80 L1167.80,1838.80 L1168.94,1838.80 L1170.07,1838.80 L1171.21,1838.80 L1172.34,1838.80 L1173.48,1838.80 L1174.61,1838.80 L1175.75,1838.80 L1176.88,1838.80 L1178.02,1838.80 L1179.16,1838.80 L1180.29,1838.80 L1181.43,1838.80 L1182.56,1838.80 L1183.70,1838.80 L1184.83,1838.80 L1185.97,1838.80 L1187.10,1838.80 L1188.24,1838.80 L1189.38,1838.80 L1190.51,1838.80 L1191.65,1838.80 L1192.78,1838.80 L1193.92,1838.80 L1195.05,1838.80 L1196.19,1838.80 L1197.33,1838.80 L1198.46,1838.80 L1199.60,1838.80 L1200.73,1838.80 L1201.87,1838.80 L1203.00,1838.80 L1204.14,1838.80 L1205.27,1838.80 L1206.41,1838.80 L1207.55,1838.80 L1208.68,1838.80 L1209.82,1838.80 L1210.95,1838.80 L1212.09,1838.80 L1213.22,1838.80 L1214.36,1838.80 L1215.49,1838.80 L1216.63,1838.80 L1217.77,1838.80 L1218.90,1838.80 L1220.04,1838.80 L1221.17,1838.80 L1222.31,1838.80 L1223.44,1838.80 L1224.58,1838.80 L1225.72,1838.80 L1226.85,1838.80 L1227.99,1838.80 L1229.12,1838.80 L1230.26,1838.80 L1231.39,1838.80 L1232.53,1838.80 L1233.66,1838.80 L1234.80,1838.80 L1235.94,1838.80 L1237.07,1838.80 L1238.21,1838.80 L1239.34,1838.80 L1240.48,1838.80 L1241.61,1838.80 L1242.75,1838.80 L1243.88,1838.80 L1245.02,1838.80 L1246.16,1838.80 L1247.29,1838.80 L1248.43,1838.80 L1249.56,1838.80 L1250.70,1838.80 L1251.83,1838.80 L1252.97,1838.80 L1254.11,1838.80 L1255.24,1838.80 L1256.38,1838.80 L1257.51,1838.80 L1258.65,1838.80 L1259.78,1838.80 L1260.92,1838.80 L1262.05,1838.80 L1263.19,1838.80 L1264.33,1838.80 L1265.46,1838.80 L1266.60,1838.80 L1267.73,1838.80" fill="none" stroke="#8DBADD" stroke-width="4.6" stroke-linecap="round" stroke-linejoin="round"/>
<path d="M984.40,1838.80 L998.60,1578.53 L999.73,1582.78 L1000.87,1587.04 L1002.00,1591.30 L1003.14,1595.56 L1004.27,1599.81 L1005.41,1604.09 L1006.54,1608.46 L1007.68,1612.90 L1008.82,1617.35 L1009.95,1621.76 L1011.09,1626.09 L1012.22,1630.26 L1013.36,1634.24 L1014.49,1637.98 L1015.63,1641.55 L1016.76,1644.99 L1017.90,1648.32 L1019.04,1651.53 L1020.17,1654.62 L1021.31,1657.61 L1022.44,1660.48 L1023.58,1663.26 L1024.71,1665.96 L1025.85,1668.58 L1026.98,1671.12 L1028.12,1673.58 L1029.26,1675.97 L1030.39,1678.29 L1031.53,1680.54 L1032.66,1682.73 L1033.80,1684.85 L1034.93,1686.91 L1036.07,1688.92 L1037.21,1690.88 L1038.34,1692.80 L1039.48,1694.68 L1040.61,1696.52 L1041.75,1698.34 L1042.88,1700.13 L1044.02,1701.90 L1045.15,1703.62 L1046.29,1705.29 L1047.43,1706.92 L1048.56,1708.52 L1049.70,1710.12 L1050.83,1711.71 L1051.97,1713.33 L1053.10,1714.97 L1054.24,1716.65 L1055.38,1718.39 L1056.51,1720.16 L1057.65,1721.95 L1058.78,1723.76 L1059.92,1725.58 L1061.05,1727.40 L1062.19,1729.20 L1063.32,1730.98 L1064.46,1732.73 L1065.60,1734.44 L1066.73,1736.09 L1067.87,1737.68 L1069.00,1739.20 L1070.14,1740.64 L1071.27,1741.99 L1072.41,1743.26 L1073.54,1744.48 L1074.68,1745.65 L1075.82,1746.79 L1076.95,1747.88 L1078.09,1748.95 L1079.22,1749.98 L1080.36,1750.99 L1081.49,1751.98 L1082.63,1752.96 L1083.77,1753.92 L1084.90,1754.88 L1086.04,1755.83 L1087.17,1756.79 L1088.31,1757.75 L1089.44,1758.72 L1090.58,1759.70 L1091.71,1760.70 L1092.85,1761.73 L1093.99,1762.77 L1095.12,1763.82 L1096.26,1764.87 L1097.39,1765.92 L1098.53,1766.97 L1099.66,1768.01 L1100.80,1769.06 L1101.93,1770.11 L1103.07,1771.16 L1104.21,1772.22 L1105.34,1773.27 L1106.48,1774.33 L1107.61,1775.39 L1108.75,1776.46 L1109.88,1777.53 L1111.02,1778.60 L1112.15,1779.68 L1113.29,1780.77 L1114.43,1781.86 L1115.56,1782.96 L1116.70,1784.08 L1117.83,1785.22 L1118.97,1786.38 L1120.10,1787.56 L1121.24,1788.75 L1122.38,1789.95 L1123.51,1791.16 L1124.65,1792.37 L1125.78,1793.58 L1126.92,1794.78 L1128.05,1795.97 L1129.19,1797.16 L1130.32,1798.32 L1131.46,1799.47 L1132.60,1800.59 L1133.73,1801.69 L1134.87,1802.76 L1136.00,1803.79 L1137.14,1804.79 L1138.27,1805.75 L1139.41,1806.71 L1140.55,1807.67 L1141.68,1808.62 L1142.82,1809.56 L1143.95,1810.49 L1145.09,1811.41 L1146.22,1812.32 L1147.36,1813.21 L1148.49,1814.08 L1149.63,1814.93 L1150.77,1815.76 L1151.90,1816.57 L1153.04,1817.35 L1154.17,1818.10 L1155.31,1818.83 L1156.44,1819.52 L1157.58,1820.18 L1158.71,1820.80 L1159.85,1821.38 L1160.99,1821.95 L1162.12,1822.50 L1163.26,1823.03 L1164.39,1823.55 L1165.53,1824.06 L1166.66,1824.56 L1167.80,1825.04 L1168.94,1825.50 L1170.07,1825.96 L1171.21,1826.40 L1172.34,1826.82 L1173.48,1827.23 L1174.61,1827.63 L1175.75,1828.01 L1176.88,1828.38 L1178.02,1828.74 L1179.16,1829.08 L1180.29,1829.40 L1181.43,1829.72 L1182.56,1830.02 L1183.70,1830.30 L1184.83,1830.58 L1185.97,1830.84 L1187.10,1831.09 L1188.24,1831.33 L1189.38,1831.57 L1190.51,1831.79 L1191.65,1832.02 L1192.78,1832.23 L1193.92,1832.45 L1195.05,1832.66 L1196.19,1832.86 L1197.33,1833.07 L1198.46,1833.28 L1199.60,1833.49 L1200.73,1833.70 L1201.87,1833.91 L1203.00,1834.13 L1204.14,1834.35 L1205.27,1834.59 L1206.41,1834.82 L1207.55,1835.07 L1208.68,1835.32 L1209.82,1835.56 L1210.95,1835.81 L1212.09,1836.05 L1213.22,1836.28 L1214.36,1836.51 L1215.49,1836.73 L1216.63,1836.93 L1217.77,1837.12 L1218.90,1837.29 L1220.04,1837.45 L1221.17,1837.60 L1222.31,1837.75 L1223.44,1837.89 L1224.58,1838.04 L1225.72,1838.18 L1226.85,1838.32 L1227.99,1838.44 L1229.12,1838.55 L1230.26,1838.64 L1231.39,1838.72 L1232.53,1838.77 L1233.66,1838.80 L1234.80,1838.80 L1235.94,1838.80 L1237.07,1838.80 L1238.21,1838.80 L1239.34,1838.80 L1240.48,1838.80 L1241.61,1838.80 L1242.75,1838.80 L1243.88,1838.80 L1245.02,1838.80 L1246.16,1838.80 L1247.29,1838.80 L1248.43,1838.80 L1249.56,1838.80 L1250.70,1838.80 L1251.83,1838.80 L1252.97,1838.80 L1254.11,1838.80 L1255.24,1838.80 L1256.38,1838.80 L1257.51,1838.80 L1258.65,1838.80 L1259.78,1838.80 L1260.92,1838.80 L1262.05,1838.80 L1263.19,1838.80 L1264.33,1838.80 L1265.46,1838.80 L1266.60,1838.80 L1267.73,1838.80" fill="none" stroke="#4477AA" stroke-width="4.6" stroke-linecap="butt" stroke-linejoin="round" stroke-dasharray="17.02 7.36"/>
<text x="912.80" y="1846.20" font-size="20" fill="#1a1a1a">0.0</text>
<text x="913.00" y="1801.17" font-size="20" fill="#1a1a1a">0.1</text>
<text x="913.00" y="1756.14" font-size="20" fill="#1a1a1a">0.2</text>
<text x="912.90" y="1711.11" font-size="20" fill="#1a1a1a">0.3</text>
<text x="912.60" y="1666.08" font-size="20" fill="#1a1a1a">0.4</text>
<text x="912.80" y="1621.05" font-size="20" fill="#1a1a1a">0.5</text>
<text x="912.90" y="1576.02" font-size="20" fill="#1a1a1a">0.6</text>
<text x="970.50" y="1897.70" font-size="20" fill="#1a1a1a">0.0</text>
<text x="1027.38" y="1897.70" font-size="20" fill="#1a1a1a">0.2</text>
<text x="1083.96" y="1897.70" font-size="20" fill="#1a1a1a">0.4</text>
<text x="1140.89" y="1897.70" font-size="20" fill="#1a1a1a">0.6</text>
<text x="1197.62" y="1897.70" font-size="20" fill="#1a1a1a">0.8</text>
<text x="1254.05" y="1897.70" font-size="20" fill="#1a1a1a">1.0</text>
<text x="977.11" y="1524.60" font-size="25" fill="#1a1a1a">Cumulative Rain</text>
<text x="0" y="0" font-size="25" fill="#1a1a1a" transform="translate(1173.82,1524.60) scale(1.39,0.92)">≥</text>
<text x="1204.59" y="1524.60" font-size="25" fill="#1a1a1a">15mm</text>
<text x="1036.97" y="1934.20" font-size="25" fill="#1a1a1a">Cost/Loss Ratio</text>
<line x1="328.50" y1="68.60" x2="390.70" y2="68.60" stroke="#BBBBBB" stroke-width="5.3" stroke-linecap="round"/>
<text x="406.32" y="75.80" font-size="21" fill="#1a1a1a">PySTEPS</text>
<line x1="328.50" y1="98.50" x2="390.70" y2="98.50" stroke="#CCBB44" stroke-width="5.3" stroke-linecap="round"/>
<text x="406.43" y="105.60" font-size="21" fill="#1a1a1a">UNet</text>
<line x1="541.70" y1="68.60" x2="604.00" y2="68.60" stroke="#AA3377" stroke-width="5.3" stroke-linecap="round"/>
<text x="621.29" y="75.80" font-size="21" fill="#1a1a1a">Axial Attention</text>
<line x1="541.70" y1="98.50" x2="604.00" y2="98.50" stroke="#AA3377" stroke-width="5.3" stroke-dasharray="34.88 8.72 5.45 8.72" stroke-linecap="butt"/>
<text x="621.29" y="105.60" font-size="21" fill="#1a1a1a">Axial Attention Mode</text>
<line x1="853.10" y1="68.60" x2="914.80" y2="68.60" stroke="#8DBADD" stroke-width="5.3" stroke-linecap="round"/>
<text x="930.52" y="75.80" font-size="21" fill="#1a1a1a">DGMR</text>
<line x1="853.10" y1="98.50" x2="914.80" y2="98.50" stroke="#4477AA" stroke-width="5.3" stroke-dasharray="20.17 8.72" stroke-linecap="butt"/>
<text x="930.52" y="105.60" font-size="21" fill="#1a1a1a">DGMR - recal</text>
<line x1="302.70" y1="597.90" x2="365.20" y2="597.90" stroke="#BBBBBB" stroke-width="5.3" stroke-linecap="round"/>
<text x="381.82" y="605.00" font-size="21" fill="#1a1a1a">PySTEPS</text>
<line x1="302.70" y1="627.80" x2="365.20" y2="627.80" stroke="#CCBB44" stroke-width="5.3" stroke-linecap="round"/>
<text x="381.93" y="634.80" font-size="21" fill="#1a1a1a">UNet</text>
<line x1="516.10" y1="597.90" x2="578.20" y2="597.90" stroke="#AA3377" stroke-width="5.3" stroke-linecap="round"/>
<text x="596.19" y="605.00" font-size="21" fill="#1a1a1a">Axial Attention</text>
<line x1="516.10" y1="627.80" x2="578.20" y2="627.80" stroke="#AA3377" stroke-width="5.3" stroke-dasharray="5.45 8.99" stroke-linecap="butt"/>
<text x="596.19" y="634.80" font-size="21" fill="#1a1a1a">Axial Attention Temp. Opt.</text>
<line x1="879.10" y1="597.90" x2="940.90" y2="597.90" stroke="#8DBADD" stroke-width="5.3" stroke-linecap="round"/>
<text x="956.92" y="605.00" font-size="21" fill="#1a1a1a">DGMR</text>
<line x1="879.10" y1="627.80" x2="940.90" y2="627.80" stroke="#4477AA" stroke-width="5.3" stroke-dasharray="20.17 8.72" stroke-linecap="butt"/>
<text x="956.92" y="634.80" font-size="21" fill="#1a1a1a">DGMR - recal</text>
<text x="-0.76" y="18.50" font-size="35.5" font-weight="bold" fill="#000" stroke="#000" stroke-width="0.9" stroke-linejoin="round">a</text>
<text x="-0.31" y="547.80" font-size="35.5" font-weight="bold" fill="#000" stroke="#000" stroke-width="0.9" stroke-linejoin="round">b</text>
<text x="-1.12" y="1072.30" font-size="35.5" font-weight="bold" fill="#000" stroke="#000" stroke-width="0.9" stroke-linejoin="round">c</text>
<text x="-1.12" y="1475.30" font-size="35.5" font-weight="bold" fill="#000" stroke="#000" stroke-width="0.9" stroke-linejoin="round">d</text></svg>
</body></html>
